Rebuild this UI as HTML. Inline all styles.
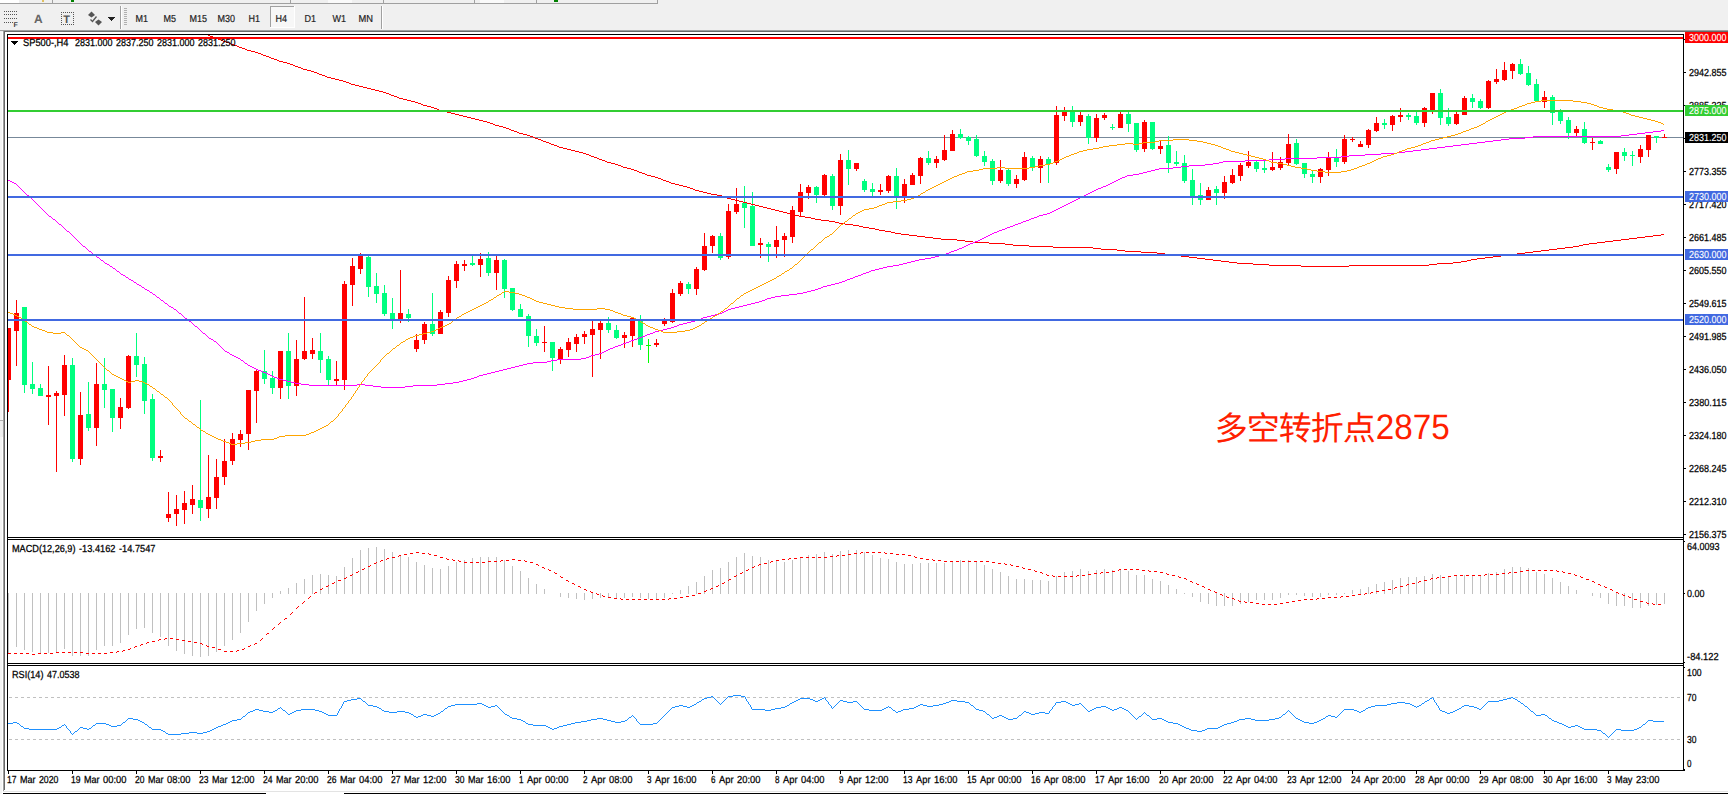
<!DOCTYPE html>
<html lang="zh"><head><meta charset="utf-8"><title>SP500-,H4</title>
<style>
html,body{margin:0;padding:0;background:#fff}
body{width:1728px;height:794px;overflow:hidden;position:relative;font-family:"Liberation Sans","Noto Sans CJK SC",sans-serif}
svg{position:absolute;left:0;top:0;display:block}
text{font-family:"Liberation Sans","Noto Sans CJK SC",sans-serif;font-size:10.2px;fill:#000;text-rendering:geometricPrecision}
.ce{shape-rendering:crispEdges}
.tb{fill:#222;font-size:10.2px;stroke:#222;stroke-width:0.2px}
.ax{font-size:10.2px;stroke:#000;stroke-width:0.25px}
.w{fill:#fff;stroke:#fff;stroke-width:0.1px}
.note{font-family:"Liberation Sans","Noto Sans CJK SC",sans-serif;font-size:33px;fill:#ff2000;font-weight:400;letter-spacing:-1px}
.note tspan{font-size:35.4px;letter-spacing:0}
</style></head><body>
<svg width="1728" height="794" viewBox="0 0 1728 794">
<g id="toolbar">
<rect class="ce" x="0" y="0" width="1728" height="32" fill="#f0f0f0"/>
<rect class="ce" x="0" y="3" width="658" height="1" fill="#a0a0a0"/>
<rect class="ce" x="657" y="0" width="1" height="4" fill="#a0a0a0"/>
<rect class="ce" x="0" y="0" width="19" height="3" fill="#fff"/>
<rect class="ce" x="328" y="0" width="24" height="3" fill="#fafafa"/>
<rect class="ce" x="480" y="0" width="24" height="3" fill="#fafafa"/>
<rect class="ce" x="52" y="0" width="1" height="3" fill="#a0a0a0"/>
<rect class="ce" x="290" y="0" width="1" height="3" fill="#a0a0a0"/>
<rect class="ce" x="383" y="0" width="1" height="3" fill="#a0a0a0"/>
<rect class="ce" x="474" y="0" width="1" height="3" fill="#a0a0a0"/>
<rect class="ce" x="536" y="0" width="1" height="3" fill="#a0a0a0"/>
<rect class="ce" x="42" y="0" width="2" height="2" fill="#e0c060"/>
<rect class="ce" x="71" y="0" width="3" height="2" fill="#008000"/>
<rect class="ce" x="554" y="0" width="4" height="2" fill="#008000"/>
<rect class="ce" x="0" y="30" width="1728" height="1" fill="#a0a0a0"/>
<rect class="ce" x="3" y="31" width="1728" height="1" fill="#696969"/>
<rect class="ce" x="4" y="11" width="1" height="1" fill="#555"/>
<rect class="ce" x="6" y="11" width="1" height="1" fill="#555"/>
<rect class="ce" x="8" y="11" width="1" height="1" fill="#555"/>
<rect class="ce" x="10" y="11" width="1" height="1" fill="#555"/>
<rect class="ce" x="12" y="11" width="1" height="1" fill="#555"/>
<rect class="ce" x="14" y="11" width="1" height="1" fill="#555"/>
<rect class="ce" x="16" y="11" width="1" height="1" fill="#555"/>
<rect class="ce" x="4" y="14" width="1" height="1" fill="#555"/>
<rect class="ce" x="6" y="14" width="1" height="1" fill="#555"/>
<rect class="ce" x="8" y="14" width="1" height="1" fill="#555"/>
<rect class="ce" x="10" y="14" width="1" height="1" fill="#555"/>
<rect class="ce" x="12" y="14" width="1" height="1" fill="#555"/>
<rect class="ce" x="14" y="14" width="1" height="1" fill="#555"/>
<rect class="ce" x="16" y="14" width="1" height="1" fill="#555"/>
<rect class="ce" x="4" y="18" width="1" height="1" fill="#555"/>
<rect class="ce" x="6" y="18" width="1" height="1" fill="#555"/>
<rect class="ce" x="8" y="18" width="1" height="1" fill="#555"/>
<rect class="ce" x="10" y="18" width="1" height="1" fill="#555"/>
<rect class="ce" x="12" y="18" width="1" height="1" fill="#555"/>
<rect class="ce" x="14" y="18" width="1" height="1" fill="#555"/>
<rect class="ce" x="16" y="18" width="1" height="1" fill="#555"/>
<rect class="ce" x="4" y="22" width="1" height="1" fill="#555"/>
<rect class="ce" x="6" y="22" width="1" height="1" fill="#555"/>
<rect class="ce" x="8" y="22" width="1" height="1" fill="#555"/>
<rect class="ce" x="10" y="22" width="1" height="1" fill="#555"/>
<rect class="ce" x="12" y="22" width="1" height="1" fill="#555"/>
<text x="13.5" y="27" style="font-size:7px;font-weight:bold;fill:#444">F</text>
<text x="34" y="23" style="font-size:12px;font-weight:bold;fill:#666">A</text>
<rect class="ce" x="61" y="12" width="1" height="1" fill="#555"/>
<rect class="ce" x="61" y="24" width="1" height="1" fill="#555"/>
<rect class="ce" x="63" y="12" width="1" height="1" fill="#555"/>
<rect class="ce" x="63" y="24" width="1" height="1" fill="#555"/>
<rect class="ce" x="65" y="12" width="1" height="1" fill="#555"/>
<rect class="ce" x="65" y="24" width="1" height="1" fill="#555"/>
<rect class="ce" x="67" y="12" width="1" height="1" fill="#555"/>
<rect class="ce" x="67" y="24" width="1" height="1" fill="#555"/>
<rect class="ce" x="69" y="12" width="1" height="1" fill="#555"/>
<rect class="ce" x="69" y="24" width="1" height="1" fill="#555"/>
<rect class="ce" x="71" y="12" width="1" height="1" fill="#555"/>
<rect class="ce" x="71" y="24" width="1" height="1" fill="#555"/>
<rect class="ce" x="73" y="12" width="1" height="1" fill="#555"/>
<rect class="ce" x="73" y="24" width="1" height="1" fill="#555"/>
<rect class="ce" x="61" y="12" width="1" height="1" fill="#555"/>
<rect class="ce" x="73" y="12" width="1" height="1" fill="#555"/>
<rect class="ce" x="61" y="14" width="1" height="1" fill="#555"/>
<rect class="ce" x="73" y="14" width="1" height="1" fill="#555"/>
<rect class="ce" x="61" y="16" width="1" height="1" fill="#555"/>
<rect class="ce" x="73" y="16" width="1" height="1" fill="#555"/>
<rect class="ce" x="61" y="18" width="1" height="1" fill="#555"/>
<rect class="ce" x="73" y="18" width="1" height="1" fill="#555"/>
<rect class="ce" x="61" y="20" width="1" height="1" fill="#555"/>
<rect class="ce" x="73" y="20" width="1" height="1" fill="#555"/>
<rect class="ce" x="61" y="22" width="1" height="1" fill="#555"/>
<rect class="ce" x="73" y="22" width="1" height="1" fill="#555"/>
<rect class="ce" x="61" y="24" width="1" height="1" fill="#555"/>
<rect class="ce" x="73" y="24" width="1" height="1" fill="#555"/>
<text x="63.3" y="23" style="font-size:11px;font-weight:bold;fill:#555">T</text>
<path d="M88 15 L91.5 11.5 L95 15 L91.5 17.5 Z" fill="#555"/>
<path d="M95 22 L98.5 19.5 L102 22 L98.5 25.5 Z" fill="#555"/>
<path d="M90.5 19.5 L92.5 21.5 L96.5 16.5" fill="none" stroke="#555" stroke-width="1.3"/>
<rect class="ce" x="108" y="17" width="7" height="1" fill="#222"/>
<rect class="ce" x="109" y="18" width="5" height="1" fill="#222"/>
<rect class="ce" x="110" y="19" width="3" height="1" fill="#222"/>
<rect class="ce" x="111" y="20" width="1" height="1" fill="#222"/>
<rect class="ce" x="120" y="6" width="1" height="23" fill="#a0a0a0"/>
<rect class="ce" x="121" y="6" width="1" height="23" fill="#fff"/>
<rect class="ce" x="124" y="8" width="3" height="1" fill="#b0b0b0"/>
<rect class="ce" x="124" y="10" width="3" height="1" fill="#b0b0b0"/>
<rect class="ce" x="124" y="12" width="3" height="1" fill="#b0b0b0"/>
<rect class="ce" x="124" y="14" width="3" height="1" fill="#b0b0b0"/>
<rect class="ce" x="124" y="16" width="3" height="1" fill="#b0b0b0"/>
<rect class="ce" x="124" y="18" width="3" height="1" fill="#b0b0b0"/>
<rect class="ce" x="124" y="20" width="3" height="1" fill="#b0b0b0"/>
<rect class="ce" x="124" y="22" width="3" height="1" fill="#b0b0b0"/>
<rect class="ce" x="124" y="24" width="3" height="1" fill="#b0b0b0"/>
<rect class="ce" x="381" y="6" width="1" height="23" fill="#a0a0a0"/>
<rect class="ce" x="382" y="6" width="1" height="23" fill="#fff"/>
<rect class="ce" x="270" y="6" width="25" height="22" fill="#f7f7f7"/>
<rect class="ce" x="270" y="6" width="25" height="1" fill="#a0a0a0"/>
<rect class="ce" x="270" y="6" width="1" height="22" fill="#a0a0a0"/>
<rect class="ce" x="270" y="27" width="25" height="1" fill="#fff"/>
<rect class="ce" x="294" y="6" width="1" height="22" fill="#fff"/>
<text class="tb" y="22"><tspan x="135.6" textLength="12.5" lengthAdjust="spacingAndGlyphs">M1</tspan></text>
<text class="tb" y="22"><tspan x="163.6" textLength="12.5" lengthAdjust="spacingAndGlyphs">M5</tspan></text>
<text class="tb" y="22"><tspan x="189.6" textLength="17.5" lengthAdjust="spacingAndGlyphs">M15</tspan></text>
<text class="tb" y="22"><tspan x="217.6" textLength="17.5" lengthAdjust="spacingAndGlyphs">M30</tspan></text>
<text class="tb" y="22"><tspan x="248.6" textLength="11.5" lengthAdjust="spacingAndGlyphs">H1</tspan></text>
<text class="tb" y="22"><tspan x="275.6" textLength="11.5" lengthAdjust="spacingAndGlyphs">H4</tspan></text>
<text class="tb" y="22"><tspan x="304.6" textLength="11.5" lengthAdjust="spacingAndGlyphs">D1</tspan></text>
<text class="tb" y="22"><tspan x="332.6" textLength="13.5" lengthAdjust="spacingAndGlyphs">W1</tspan></text>
<text class="tb" y="22"><tspan x="358.6" textLength="14.5" lengthAdjust="spacingAndGlyphs">MN</tspan></text>
</g>
<g id="frame">
<rect class="ce" x="0" y="32" width="2" height="762" fill="#f4f4f4"/>
<rect class="ce" x="2" y="32" width="1" height="762" fill="#fff"/>
<rect class="ce" x="0" y="420" width="3" height="1" fill="#b0b0b0"/>
<rect class="ce" x="0" y="421" width="3" height="16" fill="#eeeeee"/>
<rect class="ce" x="3" y="30" width="1" height="761" fill="#a0a0a0"/>
<rect class="ce" x="4" y="31" width="1" height="759" fill="#696969"/>
<rect class="ce" x="5" y="32" width="1723" height="762" fill="#fff"/>
<rect class="ce" x="3" y="791" width="1725" height="1" fill="#e3e3e3"/>
<rect class="ce" x="3" y="793" width="263" height="1" fill="#000"/>
<rect class="ce" x="344" y="793" width="1384" height="1" fill="#000"/>
</g>
<g id="borders">
<rect class="ce" x="7" y="34" width="1677" height="1" fill="#000"/>
<rect class="ce" x="7" y="34" width="1" height="737" fill="#000"/>
<rect class="ce" x="1683" y="34" width="1" height="737" fill="#000"/>
<rect class="ce" x="7" y="537" width="1677" height="1" fill="#000"/>
<rect class="ce" x="7" y="539" width="1677" height="1" fill="#000"/>
<rect class="ce" x="7" y="663" width="1677" height="1" fill="#000"/>
<rect class="ce" x="7" y="665" width="1677" height="1" fill="#000"/>
<rect class="ce" x="7" y="770" width="1678" height="1" fill="#000"/>
<rect class="ce" x="8" y="538" width="1675" height="1" fill="#fff"/>
<rect class="ce" x="8" y="664" width="1675" height="1" fill="#fff"/>
</g>
<g id="main">
<rect class="ce" x="8" y="137" width="1675" height="1" fill="#778899"/>
<g id="candles">
<rect class="ce" x="8" y="328" width="1" height="84" fill="#ff0000"/>
<rect class="ce" x="8" y="328" width="3" height="52" fill="#ff0000"/>
<rect class="ce" x="16" y="300" width="1" height="66" fill="#ff0000"/>
<rect class="ce" x="14" y="313" width="5" height="18" fill="#ff0000"/>
<rect class="ce" x="24" y="307" width="1" height="86" fill="#00ff7f"/>
<rect class="ce" x="22" y="307" width="5" height="78" fill="#00ff7f"/>
<rect class="ce" x="32" y="362" width="1" height="32" fill="#00ff7f"/>
<rect class="ce" x="30" y="384" width="5" height="5" fill="#00ff7f"/>
<rect class="ce" x="40" y="384" width="1" height="12" fill="#00ff7f"/>
<rect class="ce" x="38" y="388" width="5" height="8" fill="#00ff7f"/>
<rect class="ce" x="48" y="366" width="1" height="59" fill="#ff0000"/>
<rect class="ce" x="46" y="395" width="5" height="2" fill="#ff0000"/>
<rect class="ce" x="56" y="391" width="1" height="81" fill="#ff0000"/>
<rect class="ce" x="54" y="393" width="5" height="3" fill="#ff0000"/>
<rect class="ce" x="64" y="355" width="1" height="61" fill="#ff0000"/>
<rect class="ce" x="62" y="365" width="5" height="30" fill="#ff0000"/>
<rect class="ce" x="72" y="358" width="1" height="104" fill="#00ff7f"/>
<rect class="ce" x="70" y="365" width="5" height="94" fill="#00ff7f"/>
<rect class="ce" x="80" y="392" width="1" height="73" fill="#ff0000"/>
<rect class="ce" x="78" y="415" width="5" height="44" fill="#ff0000"/>
<rect class="ce" x="88" y="382" width="1" height="49" fill="#00ff7f"/>
<rect class="ce" x="86" y="414" width="5" height="14" fill="#00ff7f"/>
<rect class="ce" x="96" y="363" width="1" height="83" fill="#ff0000"/>
<rect class="ce" x="94" y="384" width="5" height="44" fill="#ff0000"/>
<rect class="ce" x="104" y="358" width="1" height="50" fill="#00ff7f"/>
<rect class="ce" x="102" y="384" width="5" height="6" fill="#00ff7f"/>
<rect class="ce" x="112" y="389" width="1" height="43" fill="#00ff7f"/>
<rect class="ce" x="110" y="389" width="5" height="29" fill="#00ff7f"/>
<rect class="ce" x="120" y="398" width="1" height="31" fill="#ff0000"/>
<rect class="ce" x="118" y="407" width="5" height="11" fill="#ff0000"/>
<rect class="ce" x="128" y="355" width="1" height="54" fill="#ff0000"/>
<rect class="ce" x="126" y="356" width="5" height="52" fill="#ff0000"/>
<rect class="ce" x="136" y="333" width="1" height="44" fill="#00ff7f"/>
<rect class="ce" x="134" y="356" width="5" height="9" fill="#00ff7f"/>
<rect class="ce" x="144" y="357" width="1" height="57" fill="#00ff7f"/>
<rect class="ce" x="142" y="364" width="5" height="37" fill="#00ff7f"/>
<rect class="ce" x="152" y="394" width="1" height="67" fill="#00ff7f"/>
<rect class="ce" x="150" y="399" width="5" height="59" fill="#00ff7f"/>
<rect class="ce" x="160" y="450" width="1" height="12" fill="#ff0000"/>
<rect class="ce" x="158" y="456" width="5" height="2" fill="#ff0000"/>
<rect class="ce" x="168" y="492" width="1" height="30" fill="#ff0000"/>
<rect class="ce" x="166" y="514" width="5" height="4" fill="#ff0000"/>
<rect class="ce" x="176" y="495" width="1" height="31" fill="#ff0000"/>
<rect class="ce" x="174" y="509" width="5" height="5" fill="#ff0000"/>
<rect class="ce" x="184" y="491" width="1" height="33" fill="#ff0000"/>
<rect class="ce" x="182" y="503" width="5" height="7" fill="#ff0000"/>
<rect class="ce" x="192" y="485" width="1" height="29" fill="#ff0000"/>
<rect class="ce" x="190" y="499" width="5" height="6" fill="#ff0000"/>
<rect class="ce" x="200" y="400" width="1" height="121" fill="#00ff7f"/>
<rect class="ce" x="198" y="500" width="5" height="8" fill="#00ff7f"/>
<rect class="ce" x="208" y="455" width="1" height="63" fill="#ff0000"/>
<rect class="ce" x="206" y="497" width="5" height="12" fill="#ff0000"/>
<rect class="ce" x="216" y="459" width="1" height="50" fill="#ff0000"/>
<rect class="ce" x="214" y="477" width="5" height="21" fill="#ff0000"/>
<rect class="ce" x="224" y="439" width="1" height="46" fill="#ff0000"/>
<rect class="ce" x="222" y="461" width="5" height="16" fill="#ff0000"/>
<rect class="ce" x="232" y="433" width="1" height="32" fill="#ff0000"/>
<rect class="ce" x="230" y="439" width="5" height="22" fill="#ff0000"/>
<rect class="ce" x="240" y="430" width="1" height="17" fill="#ff0000"/>
<rect class="ce" x="238" y="434" width="5" height="6" fill="#ff0000"/>
<rect class="ce" x="248" y="390" width="1" height="60" fill="#ff0000"/>
<rect class="ce" x="246" y="390" width="5" height="44" fill="#ff0000"/>
<rect class="ce" x="256" y="370" width="1" height="53" fill="#ff0000"/>
<rect class="ce" x="254" y="371" width="5" height="20" fill="#ff0000"/>
<rect class="ce" x="264" y="350" width="1" height="34" fill="#00ff7f"/>
<rect class="ce" x="262" y="371" width="5" height="8" fill="#00ff7f"/>
<rect class="ce" x="272" y="371" width="1" height="23" fill="#00ff7f"/>
<rect class="ce" x="270" y="378" width="5" height="10" fill="#00ff7f"/>
<rect class="ce" x="280" y="351" width="1" height="48" fill="#ff0000"/>
<rect class="ce" x="278" y="351" width="5" height="37" fill="#ff0000"/>
<rect class="ce" x="288" y="333" width="1" height="66" fill="#00ff7f"/>
<rect class="ce" x="286" y="351" width="5" height="35" fill="#00ff7f"/>
<rect class="ce" x="296" y="340" width="1" height="56" fill="#ff0000"/>
<rect class="ce" x="294" y="359" width="5" height="27" fill="#ff0000"/>
<rect class="ce" x="304" y="297" width="1" height="63" fill="#ff0000"/>
<rect class="ce" x="302" y="351" width="5" height="8" fill="#ff0000"/>
<rect class="ce" x="312" y="338" width="1" height="21" fill="#ff0000"/>
<rect class="ce" x="310" y="350" width="5" height="4" fill="#ff0000"/>
<rect class="ce" x="320" y="333" width="1" height="40" fill="#00ff7f"/>
<rect class="ce" x="318" y="351" width="5" height="9" fill="#00ff7f"/>
<rect class="ce" x="328" y="356" width="1" height="29" fill="#00ff7f"/>
<rect class="ce" x="326" y="359" width="5" height="21" fill="#00ff7f"/>
<rect class="ce" x="336" y="361" width="1" height="24" fill="#ff0000"/>
<rect class="ce" x="334" y="379" width="5" height="2" fill="#ff0000"/>
<rect class="ce" x="344" y="281" width="1" height="109" fill="#ff0000"/>
<rect class="ce" x="342" y="284" width="5" height="96" fill="#ff0000"/>
<rect class="ce" x="352" y="258" width="1" height="48" fill="#ff0000"/>
<rect class="ce" x="350" y="266" width="5" height="19" fill="#ff0000"/>
<rect class="ce" x="360" y="253" width="1" height="21" fill="#ff0000"/>
<rect class="ce" x="358" y="256" width="5" height="13" fill="#ff0000"/>
<rect class="ce" x="368" y="256" width="1" height="41" fill="#00ff7f"/>
<rect class="ce" x="366" y="257" width="5" height="30" fill="#00ff7f"/>
<rect class="ce" x="376" y="273" width="1" height="30" fill="#00ff7f"/>
<rect class="ce" x="374" y="286" width="5" height="8" fill="#00ff7f"/>
<rect class="ce" x="384" y="285" width="1" height="31" fill="#00ff7f"/>
<rect class="ce" x="382" y="293" width="5" height="21" fill="#00ff7f"/>
<rect class="ce" x="392" y="298" width="1" height="31" fill="#00ff7f"/>
<rect class="ce" x="390" y="313" width="5" height="6" fill="#00ff7f"/>
<rect class="ce" x="400" y="270" width="1" height="53" fill="#ff0000"/>
<rect class="ce" x="398" y="313" width="5" height="6" fill="#ff0000"/>
<rect class="ce" x="408" y="309" width="1" height="13" fill="#00ff7f"/>
<rect class="ce" x="406" y="314" width="5" height="4" fill="#00ff7f"/>
<rect class="ce" x="416" y="334" width="1" height="18" fill="#ff0000"/>
<rect class="ce" x="414" y="340" width="5" height="9" fill="#ff0000"/>
<rect class="ce" x="424" y="322" width="1" height="22" fill="#ff0000"/>
<rect class="ce" x="422" y="324" width="5" height="16" fill="#ff0000"/>
<rect class="ce" x="432" y="293" width="1" height="43" fill="#00ff7f"/>
<rect class="ce" x="430" y="324" width="5" height="10" fill="#00ff7f"/>
<rect class="ce" x="440" y="310" width="1" height="24" fill="#ff0000"/>
<rect class="ce" x="438" y="312" width="5" height="22" fill="#ff0000"/>
<rect class="ce" x="448" y="276" width="1" height="41" fill="#ff0000"/>
<rect class="ce" x="446" y="280" width="5" height="33" fill="#ff0000"/>
<rect class="ce" x="456" y="261" width="1" height="27" fill="#ff0000"/>
<rect class="ce" x="454" y="264" width="5" height="17" fill="#ff0000"/>
<rect class="ce" x="464" y="260" width="1" height="11" fill="#ff0000"/>
<rect class="ce" x="462" y="264" width="5" height="2" fill="#ff0000"/>
<rect class="ce" x="472" y="256" width="1" height="10" fill="#00ff7f"/>
<rect class="ce" x="470" y="263" width="5" height="2" fill="#00ff7f"/>
<rect class="ce" x="480" y="253" width="1" height="24" fill="#ff0000"/>
<rect class="ce" x="478" y="259" width="5" height="6" fill="#ff0000"/>
<rect class="ce" x="488" y="252" width="1" height="24" fill="#00ff7f"/>
<rect class="ce" x="486" y="258" width="5" height="15" fill="#00ff7f"/>
<rect class="ce" x="496" y="256" width="1" height="34" fill="#ff0000"/>
<rect class="ce" x="494" y="260" width="5" height="13" fill="#ff0000"/>
<rect class="ce" x="504" y="259" width="1" height="39" fill="#00ff7f"/>
<rect class="ce" x="502" y="260" width="5" height="29" fill="#00ff7f"/>
<rect class="ce" x="512" y="288" width="1" height="23" fill="#00ff7f"/>
<rect class="ce" x="510" y="288" width="5" height="22" fill="#00ff7f"/>
<rect class="ce" x="520" y="304" width="1" height="13" fill="#00ff7f"/>
<rect class="ce" x="518" y="309" width="5" height="8" fill="#00ff7f"/>
<rect class="ce" x="528" y="314" width="1" height="33" fill="#00ff7f"/>
<rect class="ce" x="526" y="316" width="5" height="20" fill="#00ff7f"/>
<rect class="ce" x="536" y="329" width="1" height="17" fill="#00ff7f"/>
<rect class="ce" x="534" y="336" width="5" height="7" fill="#00ff7f"/>
<rect class="ce" x="544" y="326" width="1" height="26" fill="#ff0000"/>
<rect class="ce" x="542" y="342" width="5" height="1" fill="#ff0000"/>
<rect class="ce" x="552" y="342" width="1" height="29" fill="#00ff7f"/>
<rect class="ce" x="550" y="342" width="5" height="16" fill="#00ff7f"/>
<rect class="ce" x="560" y="347" width="1" height="17" fill="#ff0000"/>
<rect class="ce" x="558" y="349" width="5" height="10" fill="#ff0000"/>
<rect class="ce" x="568" y="338" width="1" height="19" fill="#ff0000"/>
<rect class="ce" x="566" y="342" width="5" height="8" fill="#ff0000"/>
<rect class="ce" x="576" y="334" width="1" height="18" fill="#ff0000"/>
<rect class="ce" x="574" y="337" width="5" height="7" fill="#ff0000"/>
<rect class="ce" x="584" y="331" width="1" height="13" fill="#ff0000"/>
<rect class="ce" x="582" y="334" width="5" height="3" fill="#ff0000"/>
<rect class="ce" x="592" y="321" width="1" height="56" fill="#ff0000"/>
<rect class="ce" x="590" y="329" width="5" height="6" fill="#ff0000"/>
<rect class="ce" x="600" y="321" width="1" height="38" fill="#ff0000"/>
<rect class="ce" x="598" y="323" width="5" height="7" fill="#ff0000"/>
<rect class="ce" x="608" y="317" width="1" height="16" fill="#00ff7f"/>
<rect class="ce" x="606" y="323" width="5" height="7" fill="#00ff7f"/>
<rect class="ce" x="616" y="325" width="1" height="14" fill="#00ff7f"/>
<rect class="ce" x="614" y="330" width="5" height="8" fill="#00ff7f"/>
<rect class="ce" x="624" y="332" width="1" height="16" fill="#ff0000"/>
<rect class="ce" x="622" y="335" width="5" height="3" fill="#ff0000"/>
<rect class="ce" x="632" y="317" width="1" height="30" fill="#ff0000"/>
<rect class="ce" x="630" y="318" width="5" height="18" fill="#ff0000"/>
<rect class="ce" x="640" y="315" width="1" height="35" fill="#00ff7f"/>
<rect class="ce" x="638" y="321" width="5" height="24" fill="#00ff7f"/>
<rect class="ce" x="648" y="339" width="1" height="24" fill="#00ff00"/>
<rect class="ce" x="646" y="345" width="5" height="1" fill="#00ff00"/>
<rect class="ce" x="656" y="339" width="1" height="8" fill="#ff0000"/>
<rect class="ce" x="654" y="343" width="5" height="2" fill="#ff0000"/>
<rect class="ce" x="664" y="318" width="1" height="8" fill="#ff0000"/>
<rect class="ce" x="662" y="320" width="5" height="4" fill="#ff0000"/>
<rect class="ce" x="672" y="289" width="1" height="34" fill="#ff0000"/>
<rect class="ce" x="670" y="293" width="5" height="29" fill="#ff0000"/>
<rect class="ce" x="680" y="281" width="1" height="15" fill="#ff0000"/>
<rect class="ce" x="678" y="283" width="5" height="11" fill="#ff0000"/>
<rect class="ce" x="688" y="282" width="1" height="12" fill="#00ff7f"/>
<rect class="ce" x="686" y="284" width="5" height="5" fill="#00ff7f"/>
<rect class="ce" x="696" y="267" width="1" height="28" fill="#ff0000"/>
<rect class="ce" x="694" y="269" width="5" height="20" fill="#ff0000"/>
<rect class="ce" x="704" y="233" width="1" height="38" fill="#ff0000"/>
<rect class="ce" x="702" y="246" width="5" height="24" fill="#ff0000"/>
<rect class="ce" x="712" y="235" width="1" height="18" fill="#ff0000"/>
<rect class="ce" x="710" y="236" width="5" height="10" fill="#ff0000"/>
<rect class="ce" x="720" y="233" width="1" height="27" fill="#00ff7f"/>
<rect class="ce" x="718" y="236" width="5" height="22" fill="#00ff7f"/>
<rect class="ce" x="728" y="204" width="1" height="55" fill="#ff0000"/>
<rect class="ce" x="726" y="211" width="5" height="46" fill="#ff0000"/>
<rect class="ce" x="736" y="188" width="1" height="26" fill="#ff0000"/>
<rect class="ce" x="734" y="204" width="5" height="8" fill="#ff0000"/>
<rect class="ce" x="744" y="186" width="1" height="42" fill="#00ff7f"/>
<rect class="ce" x="742" y="203" width="5" height="5" fill="#00ff7f"/>
<rect class="ce" x="752" y="192" width="1" height="54" fill="#00ff7f"/>
<rect class="ce" x="750" y="206" width="5" height="40" fill="#00ff7f"/>
<rect class="ce" x="760" y="238" width="1" height="20" fill="#ff0000"/>
<rect class="ce" x="758" y="243" width="5" height="2" fill="#ff0000"/>
<rect class="ce" x="768" y="242" width="1" height="20" fill="#00ff7f"/>
<rect class="ce" x="766" y="244" width="5" height="3" fill="#00ff7f"/>
<rect class="ce" x="776" y="226" width="1" height="32" fill="#ff0000"/>
<rect class="ce" x="774" y="240" width="5" height="7" fill="#ff0000"/>
<rect class="ce" x="784" y="233" width="1" height="24" fill="#ff0000"/>
<rect class="ce" x="782" y="236" width="5" height="4" fill="#ff0000"/>
<rect class="ce" x="792" y="206" width="1" height="37" fill="#ff0000"/>
<rect class="ce" x="790" y="210" width="5" height="27" fill="#ff0000"/>
<rect class="ce" x="800" y="184" width="1" height="32" fill="#ff0000"/>
<rect class="ce" x="798" y="192" width="5" height="20" fill="#ff0000"/>
<rect class="ce" x="808" y="185" width="1" height="14" fill="#ff0000"/>
<rect class="ce" x="806" y="187" width="5" height="6" fill="#ff0000"/>
<rect class="ce" x="816" y="186" width="1" height="17" fill="#00ff7f"/>
<rect class="ce" x="814" y="187" width="5" height="8" fill="#00ff7f"/>
<rect class="ce" x="824" y="174" width="1" height="22" fill="#ff0000"/>
<rect class="ce" x="822" y="175" width="5" height="20" fill="#ff0000"/>
<rect class="ce" x="832" y="174" width="1" height="36" fill="#00ff7f"/>
<rect class="ce" x="830" y="176" width="5" height="30" fill="#00ff7f"/>
<rect class="ce" x="840" y="154" width="1" height="61" fill="#ff0000"/>
<rect class="ce" x="838" y="160" width="5" height="46" fill="#ff0000"/>
<rect class="ce" x="848" y="150" width="1" height="35" fill="#00ff7f"/>
<rect class="ce" x="846" y="160" width="5" height="9" fill="#00ff7f"/>
<rect class="ce" x="856" y="163" width="1" height="8" fill="#ff0000"/>
<rect class="ce" x="854" y="163" width="5" height="6" fill="#ff0000"/>
<rect class="ce" x="864" y="179" width="1" height="13" fill="#00ff7f"/>
<rect class="ce" x="862" y="181" width="5" height="9" fill="#00ff7f"/>
<rect class="ce" x="872" y="183" width="1" height="13" fill="#00ff7f"/>
<rect class="ce" x="870" y="189" width="5" height="3" fill="#00ff7f"/>
<rect class="ce" x="880" y="184" width="1" height="11" fill="#ff0000"/>
<rect class="ce" x="878" y="190" width="5" height="2" fill="#ff0000"/>
<rect class="ce" x="888" y="175" width="1" height="18" fill="#ff0000"/>
<rect class="ce" x="886" y="176" width="5" height="15" fill="#ff0000"/>
<rect class="ce" x="896" y="168" width="1" height="41" fill="#00ff7f"/>
<rect class="ce" x="894" y="176" width="5" height="21" fill="#00ff7f"/>
<rect class="ce" x="904" y="179" width="1" height="24" fill="#ff0000"/>
<rect class="ce" x="902" y="184" width="5" height="13" fill="#ff0000"/>
<rect class="ce" x="912" y="173" width="1" height="12" fill="#ff0000"/>
<rect class="ce" x="910" y="175" width="5" height="10" fill="#ff0000"/>
<rect class="ce" x="920" y="157" width="1" height="27" fill="#ff0000"/>
<rect class="ce" x="918" y="158" width="5" height="18" fill="#ff0000"/>
<rect class="ce" x="928" y="151" width="1" height="14" fill="#00ff7f"/>
<rect class="ce" x="926" y="158" width="5" height="5" fill="#00ff7f"/>
<rect class="ce" x="936" y="156" width="1" height="12" fill="#ff0000"/>
<rect class="ce" x="934" y="159" width="5" height="4" fill="#ff0000"/>
<rect class="ce" x="944" y="135" width="1" height="26" fill="#ff0000"/>
<rect class="ce" x="942" y="150" width="5" height="10" fill="#ff0000"/>
<rect class="ce" x="952" y="130" width="1" height="21" fill="#ff0000"/>
<rect class="ce" x="950" y="134" width="5" height="17" fill="#ff0000"/>
<rect class="ce" x="960" y="129" width="1" height="10" fill="#00ff7f"/>
<rect class="ce" x="958" y="134" width="5" height="4" fill="#00ff7f"/>
<rect class="ce" x="968" y="136" width="1" height="9" fill="#00ff7f"/>
<rect class="ce" x="966" y="137" width="5" height="4" fill="#00ff7f"/>
<rect class="ce" x="976" y="135" width="1" height="22" fill="#00ff7f"/>
<rect class="ce" x="974" y="139" width="5" height="17" fill="#00ff7f"/>
<rect class="ce" x="984" y="151" width="1" height="15" fill="#00ff7f"/>
<rect class="ce" x="982" y="156" width="5" height="6" fill="#00ff7f"/>
<rect class="ce" x="992" y="159" width="1" height="26" fill="#00ff7f"/>
<rect class="ce" x="990" y="161" width="5" height="20" fill="#00ff7f"/>
<rect class="ce" x="1000" y="160" width="1" height="23" fill="#ff0000"/>
<rect class="ce" x="998" y="170" width="5" height="11" fill="#ff0000"/>
<rect class="ce" x="1008" y="169" width="1" height="17" fill="#00ff7f"/>
<rect class="ce" x="1006" y="170" width="5" height="14" fill="#00ff7f"/>
<rect class="ce" x="1016" y="175" width="1" height="13" fill="#ff0000"/>
<rect class="ce" x="1014" y="179" width="5" height="5" fill="#ff0000"/>
<rect class="ce" x="1024" y="152" width="1" height="29" fill="#ff0000"/>
<rect class="ce" x="1022" y="157" width="5" height="23" fill="#ff0000"/>
<rect class="ce" x="1032" y="156" width="1" height="15" fill="#00ff7f"/>
<rect class="ce" x="1030" y="158" width="5" height="9" fill="#00ff7f"/>
<rect class="ce" x="1040" y="156" width="1" height="27" fill="#ff0000"/>
<rect class="ce" x="1038" y="159" width="5" height="9" fill="#ff0000"/>
<rect class="ce" x="1048" y="157" width="1" height="26" fill="#00ff7f"/>
<rect class="ce" x="1046" y="159" width="5" height="5" fill="#00ff7f"/>
<rect class="ce" x="1056" y="106" width="1" height="59" fill="#ff0000"/>
<rect class="ce" x="1054" y="115" width="5" height="48" fill="#ff0000"/>
<rect class="ce" x="1064" y="107" width="1" height="14" fill="#ff0000"/>
<rect class="ce" x="1062" y="112" width="5" height="4" fill="#ff0000"/>
<rect class="ce" x="1072" y="106" width="1" height="21" fill="#00ff7f"/>
<rect class="ce" x="1070" y="112" width="5" height="10" fill="#00ff7f"/>
<rect class="ce" x="1080" y="112" width="1" height="14" fill="#ff0000"/>
<rect class="ce" x="1078" y="115" width="5" height="7" fill="#ff0000"/>
<rect class="ce" x="1088" y="114" width="1" height="30" fill="#00ff7f"/>
<rect class="ce" x="1086" y="116" width="5" height="22" fill="#00ff7f"/>
<rect class="ce" x="1096" y="114" width="1" height="28" fill="#ff0000"/>
<rect class="ce" x="1094" y="118" width="5" height="20" fill="#ff0000"/>
<rect class="ce" x="1104" y="113" width="1" height="7" fill="#ff0000"/>
<rect class="ce" x="1102" y="115" width="5" height="3" fill="#ff0000"/>
<rect class="ce" x="1112" y="124" width="1" height="6" fill="#00ff7f"/>
<rect class="ce" x="1110" y="127" width="5" height="1" fill="#00ff7f"/>
<rect class="ce" x="1120" y="112" width="1" height="16" fill="#ff0000"/>
<rect class="ce" x="1118" y="114" width="5" height="14" fill="#ff0000"/>
<rect class="ce" x="1128" y="112" width="1" height="20" fill="#00ff7f"/>
<rect class="ce" x="1126" y="114" width="5" height="10" fill="#00ff7f"/>
<rect class="ce" x="1136" y="123" width="1" height="29" fill="#00ff7f"/>
<rect class="ce" x="1134" y="123" width="5" height="27" fill="#00ff7f"/>
<rect class="ce" x="1144" y="120" width="1" height="32" fill="#ff0000"/>
<rect class="ce" x="1142" y="122" width="5" height="27" fill="#ff0000"/>
<rect class="ce" x="1152" y="122" width="1" height="28" fill="#00ff7f"/>
<rect class="ce" x="1150" y="122" width="5" height="27" fill="#00ff7f"/>
<rect class="ce" x="1160" y="141" width="1" height="13" fill="#ff0000"/>
<rect class="ce" x="1158" y="146" width="5" height="3" fill="#ff0000"/>
<rect class="ce" x="1168" y="136" width="1" height="37" fill="#00ff7f"/>
<rect class="ce" x="1166" y="145" width="5" height="18" fill="#00ff7f"/>
<rect class="ce" x="1176" y="151" width="1" height="15" fill="#00ff7f"/>
<rect class="ce" x="1174" y="162" width="5" height="2" fill="#00ff7f"/>
<rect class="ce" x="1184" y="155" width="1" height="28" fill="#00ff7f"/>
<rect class="ce" x="1182" y="163" width="5" height="18" fill="#00ff7f"/>
<rect class="ce" x="1192" y="169" width="1" height="36" fill="#00ff7f"/>
<rect class="ce" x="1190" y="180" width="5" height="16" fill="#00ff7f"/>
<rect class="ce" x="1200" y="183" width="1" height="22" fill="#00ff7f"/>
<rect class="ce" x="1198" y="195" width="5" height="5" fill="#00ff7f"/>
<rect class="ce" x="1208" y="187" width="1" height="13" fill="#ff0000"/>
<rect class="ce" x="1206" y="190" width="5" height="10" fill="#ff0000"/>
<rect class="ce" x="1216" y="186" width="1" height="19" fill="#00ff7f"/>
<rect class="ce" x="1214" y="189" width="5" height="4" fill="#00ff7f"/>
<rect class="ce" x="1224" y="176" width="1" height="23" fill="#ff0000"/>
<rect class="ce" x="1222" y="182" width="5" height="11" fill="#ff0000"/>
<rect class="ce" x="1232" y="169" width="1" height="15" fill="#ff0000"/>
<rect class="ce" x="1230" y="175" width="5" height="8" fill="#ff0000"/>
<rect class="ce" x="1240" y="163" width="1" height="18" fill="#ff0000"/>
<rect class="ce" x="1238" y="165" width="5" height="11" fill="#ff0000"/>
<rect class="ce" x="1248" y="151" width="1" height="17" fill="#ff0000"/>
<rect class="ce" x="1246" y="162" width="5" height="4" fill="#ff0000"/>
<rect class="ce" x="1256" y="161" width="1" height="11" fill="#00ff7f"/>
<rect class="ce" x="1254" y="162" width="5" height="7" fill="#00ff7f"/>
<rect class="ce" x="1264" y="161" width="1" height="12" fill="#00ff7f"/>
<rect class="ce" x="1262" y="168" width="5" height="2" fill="#00ff7f"/>
<rect class="ce" x="1272" y="152" width="1" height="19" fill="#ff0000"/>
<rect class="ce" x="1270" y="167" width="5" height="3" fill="#ff0000"/>
<rect class="ce" x="1280" y="157" width="1" height="13" fill="#ff0000"/>
<rect class="ce" x="1278" y="162" width="5" height="6" fill="#ff0000"/>
<rect class="ce" x="1288" y="134" width="1" height="31" fill="#ff0000"/>
<rect class="ce" x="1286" y="144" width="5" height="19" fill="#ff0000"/>
<rect class="ce" x="1296" y="139" width="1" height="26" fill="#00ff7f"/>
<rect class="ce" x="1294" y="143" width="5" height="21" fill="#00ff7f"/>
<rect class="ce" x="1304" y="163" width="1" height="15" fill="#00ff7f"/>
<rect class="ce" x="1302" y="163" width="5" height="11" fill="#00ff7f"/>
<rect class="ce" x="1312" y="171" width="1" height="12" fill="#00ff7f"/>
<rect class="ce" x="1310" y="174" width="5" height="3" fill="#00ff7f"/>
<rect class="ce" x="1320" y="168" width="1" height="15" fill="#ff0000"/>
<rect class="ce" x="1318" y="169" width="5" height="8" fill="#ff0000"/>
<rect class="ce" x="1328" y="152" width="1" height="24" fill="#ff0000"/>
<rect class="ce" x="1326" y="158" width="5" height="12" fill="#ff0000"/>
<rect class="ce" x="1336" y="149" width="1" height="18" fill="#00ff7f"/>
<rect class="ce" x="1334" y="158" width="5" height="4" fill="#00ff7f"/>
<rect class="ce" x="1344" y="135" width="1" height="29" fill="#ff0000"/>
<rect class="ce" x="1342" y="139" width="5" height="23" fill="#ff0000"/>
<rect class="ce" x="1352" y="137" width="1" height="5" fill="#ff0000"/>
<rect class="ce" x="1350" y="139" width="5" height="1" fill="#ff0000"/>
<rect class="ce" x="1360" y="141" width="1" height="6" fill="#ff0000"/>
<rect class="ce" x="1358" y="144" width="5" height="3" fill="#ff0000"/>
<rect class="ce" x="1368" y="129" width="1" height="19" fill="#ff0000"/>
<rect class="ce" x="1366" y="130" width="5" height="15" fill="#ff0000"/>
<rect class="ce" x="1376" y="117" width="1" height="15" fill="#ff0000"/>
<rect class="ce" x="1374" y="123" width="5" height="8" fill="#ff0000"/>
<rect class="ce" x="1384" y="119" width="1" height="10" fill="#00ff7f"/>
<rect class="ce" x="1382" y="123" width="5" height="2" fill="#00ff7f"/>
<rect class="ce" x="1392" y="115" width="1" height="16" fill="#ff0000"/>
<rect class="ce" x="1390" y="116" width="5" height="9" fill="#ff0000"/>
<rect class="ce" x="1400" y="108" width="1" height="14" fill="#ff0000"/>
<rect class="ce" x="1398" y="115" width="5" height="2" fill="#ff0000"/>
<rect class="ce" x="1408" y="113" width="1" height="7" fill="#00ff7f"/>
<rect class="ce" x="1406" y="115" width="5" height="2" fill="#00ff7f"/>
<rect class="ce" x="1416" y="112" width="1" height="13" fill="#00ff7f"/>
<rect class="ce" x="1414" y="116" width="5" height="7" fill="#00ff7f"/>
<rect class="ce" x="1424" y="107" width="1" height="20" fill="#ff0000"/>
<rect class="ce" x="1422" y="108" width="5" height="15" fill="#ff0000"/>
<rect class="ce" x="1432" y="93" width="1" height="21" fill="#ff0000"/>
<rect class="ce" x="1430" y="93" width="5" height="19" fill="#ff0000"/>
<rect class="ce" x="1440" y="89" width="1" height="36" fill="#00ff7f"/>
<rect class="ce" x="1438" y="93" width="5" height="25" fill="#00ff7f"/>
<rect class="ce" x="1448" y="108" width="1" height="18" fill="#00ff7f"/>
<rect class="ce" x="1446" y="117" width="5" height="7" fill="#00ff7f"/>
<rect class="ce" x="1456" y="112" width="1" height="13" fill="#ff0000"/>
<rect class="ce" x="1454" y="114" width="5" height="10" fill="#ff0000"/>
<rect class="ce" x="1464" y="96" width="1" height="19" fill="#ff0000"/>
<rect class="ce" x="1462" y="98" width="5" height="17" fill="#ff0000"/>
<rect class="ce" x="1472" y="94" width="1" height="14" fill="#00ff7f"/>
<rect class="ce" x="1470" y="98" width="5" height="4" fill="#00ff7f"/>
<rect class="ce" x="1480" y="99" width="1" height="10" fill="#00ff7f"/>
<rect class="ce" x="1478" y="101" width="5" height="7" fill="#00ff7f"/>
<rect class="ce" x="1488" y="80" width="1" height="29" fill="#ff0000"/>
<rect class="ce" x="1486" y="81" width="5" height="27" fill="#ff0000"/>
<rect class="ce" x="1496" y="69" width="1" height="15" fill="#ff0000"/>
<rect class="ce" x="1494" y="79" width="5" height="3" fill="#ff0000"/>
<rect class="ce" x="1504" y="62" width="1" height="19" fill="#ff0000"/>
<rect class="ce" x="1502" y="70" width="5" height="10" fill="#ff0000"/>
<rect class="ce" x="1512" y="63" width="1" height="16" fill="#ff0000"/>
<rect class="ce" x="1510" y="64" width="5" height="7" fill="#ff0000"/>
<rect class="ce" x="1520" y="59" width="1" height="16" fill="#00ff7f"/>
<rect class="ce" x="1518" y="64" width="5" height="10" fill="#00ff7f"/>
<rect class="ce" x="1528" y="66" width="1" height="20" fill="#00ff7f"/>
<rect class="ce" x="1526" y="73" width="5" height="12" fill="#00ff7f"/>
<rect class="ce" x="1536" y="79" width="1" height="22" fill="#00ff7f"/>
<rect class="ce" x="1534" y="84" width="5" height="17" fill="#00ff7f"/>
<rect class="ce" x="1544" y="91" width="1" height="17" fill="#ff0000"/>
<rect class="ce" x="1542" y="97" width="5" height="5" fill="#ff0000"/>
<rect class="ce" x="1552" y="95" width="1" height="30" fill="#00ff7f"/>
<rect class="ce" x="1550" y="97" width="5" height="16" fill="#00ff7f"/>
<rect class="ce" x="1560" y="109" width="1" height="15" fill="#00ff7f"/>
<rect class="ce" x="1558" y="111" width="5" height="10" fill="#00ff7f"/>
<rect class="ce" x="1568" y="117" width="1" height="22" fill="#00ff7f"/>
<rect class="ce" x="1566" y="120" width="5" height="13" fill="#00ff7f"/>
<rect class="ce" x="1576" y="126" width="1" height="10" fill="#ff0000"/>
<rect class="ce" x="1574" y="129" width="5" height="4" fill="#ff0000"/>
<rect class="ce" x="1584" y="122" width="1" height="22" fill="#00ff7f"/>
<rect class="ce" x="1582" y="129" width="5" height="14" fill="#00ff7f"/>
<rect class="ce" x="1592" y="138" width="1" height="12" fill="#ff0000"/>
<rect class="ce" x="1590" y="142" width="5" height="1" fill="#ff0000"/>
<rect class="ce" x="1600" y="140" width="1" height="4" fill="#00ff7f"/>
<rect class="ce" x="1598" y="141" width="5" height="3" fill="#00ff7f"/>
<rect class="ce" x="1608" y="164" width="1" height="8" fill="#00ff7f"/>
<rect class="ce" x="1606" y="167" width="5" height="3" fill="#00ff7f"/>
<rect class="ce" x="1616" y="152" width="1" height="22" fill="#ff0000"/>
<rect class="ce" x="1614" y="152" width="5" height="17" fill="#ff0000"/>
<rect class="ce" x="1624" y="148" width="1" height="13" fill="#00ff7f"/>
<rect class="ce" x="1622" y="152" width="5" height="4" fill="#00ff7f"/>
<rect class="ce" x="1632" y="151" width="1" height="15" fill="#00ff7f"/>
<rect class="ce" x="1630" y="155" width="5" height="1" fill="#00ff7f"/>
<rect class="ce" x="1640" y="145" width="1" height="18" fill="#ff0000"/>
<rect class="ce" x="1638" y="149" width="5" height="8" fill="#ff0000"/>
<rect class="ce" x="1648" y="135" width="1" height="22" fill="#ff0000"/>
<rect class="ce" x="1646" y="135" width="5" height="15" fill="#ff0000"/>
<rect class="ce" x="1656" y="136" width="1" height="7" fill="#00ff7f"/>
<rect class="ce" x="1654" y="136" width="5" height="2" fill="#00ff7f"/>
<rect class="ce" x="1664" y="134" width="1" height="4" fill="#ff0000"/>
<rect class="ce" x="1662" y="137" width="5" height="1" fill="#ff0000"/>
</g>
<g id="ma">
<path class="ce" d="M208 35.5h2M210 36.5h3M213 37.5h2M215 38.5h3M218 39.5h3M221 40.5h2M223 41.5h3M226 42.5h3M229 43.5h2M231 44.5h3M234 45.5h3M237 46.5h2M239 47.5h3M242 48.5h3M245 49.5h2M247 50.5h4M251 51.5h4M255 52.5h3M258 53.5h3M261 54.5h2M263 55.5h3M266 56.5h3M269 57.5h2M271 58.5h3M274 59.5h3M277 60.5h2M279 61.5h4M283 62.5h4M287 63.5h3M290 64.5h3M293 65.5h2M295 66.5h3M298 67.5h3M301 68.5h2M303 69.5h4M307 70.5h4M311 71.5h3M314 72.5h3M317 73.5h2M319 74.5h3M322 75.5h3M325 76.5h2M327 77.5h4M331 78.5h4M335 79.5h4M339 80.5h4M343 81.5h3M346 82.5h3M349 83.5h2M351 84.5h4M355 85.5h4M359 86.5h4M363 87.5h4M367 88.5h4M371 89.5h4M375 90.5h4M379 91.5h4M383 92.5h3M386 93.5h3M389 94.5h2M391 95.5h3M394 96.5h3M397 97.5h2M399 98.5h4M403 99.5h4M407 100.5h4M411 101.5h4M415 102.5h3M418 103.5h3M421 104.5h2M423 105.5h4M427 106.5h4M431 107.5h3M434 108.5h3M437 109.5h2M439 110.5h4M443 111.5h4M447 112.5h4M451 113.5h4M455 114.5h4M459 115.5h4M463 116.5h4M467 117.5h4M471 118.5h4M475 119.5h4M479 120.5h4M483 121.5h4M487 122.5h3M490 123.5h3M493 124.5h2M495 125.5h4M499 126.5h4M503 127.5h3M506 128.5h3M509 129.5h2M511 130.5h3M514 131.5h3M517 132.5h2M519 133.5h4M523 134.5h4M527 135.5h3M530 136.5h3M533 137.5h2M535 138.5h3M538 139.5h3M541 140.5h2M543 141.5h3M546 142.5h3M549 143.5h2M551 144.5h3M554 145.5h3M557 146.5h2M559 147.5h4M563 148.5h4M567 149.5h4M571 150.5h4M575 151.5h4M579 152.5h4M583 153.5h3M586 154.5h3M589 155.5h2M591 156.5h3M594 157.5h3M597 158.5h2M599 159.5h3M602 160.5h3M605 161.5h2M607 162.5h4M611 163.5h4M615 164.5h3M618 165.5h3M621 166.5h2M623 167.5h4M627 168.5h4M631 169.5h3M634 170.5h3M637 171.5h2M639 172.5h3M642 173.5h3M645 174.5h2M647 175.5h4M651 176.5h4M655 177.5h3M658 178.5h3M661 179.5h2M663 180.5h3M666 181.5h3M669 182.5h2M671 183.5h4M675 184.5h4M679 185.5h4M683 186.5h4M687 187.5h3M690 188.5h3M693 189.5h2M695 190.5h4M699 191.5h4M703 192.5h4M707 193.5h4M711 194.5h6M717 195.5h5M722 196.5h3M725 197.5h2M727 198.5h4M731 199.5h4M735 200.5h4M739 201.5h4M743 202.5h4M747 203.5h4M751 204.5h4M755 205.5h4M759 206.5h4M763 207.5h4M767 208.5h4M771 209.5h4M775 210.5h4M779 211.5h4M783 212.5h4M787 213.5h4M791 214.5h4M795 215.5h4M799 216.5h6M805 217.5h6M811 218.5h4M815 219.5h6M821 220.5h8M829 221.5h6M835 222.5h4M839 223.5h6M845 224.5h8M853 225.5h6M859 226.5h4M863 227.5h6M869 228.5h6M875 229.5h4M879 230.5h6M885 231.5h6M891 232.5h4M895 233.5h6M901 234.5h8M1661 234.5h3M909 235.5h8M1653 235.5h8M917 236.5h8M1645 236.5h8M925 237.5h8M1637 237.5h8M933 238.5h8M1629 238.5h8M941 239.5h16M1621 239.5h8M957 240.5h8M1613 240.5h8M965 241.5h8M1605 241.5h8M973 242.5h16M1597 242.5h8M989 243.5h16M1589 243.5h8M1005 244.5h8M1583 244.5h6M1013 245.5h16M1579 245.5h4M1029 246.5h24M1573 246.5h6M1053 247.5h40M1565 247.5h8M1093 248.5h8M1557 248.5h8M1101 249.5h16M1549 249.5h8M1117 250.5h8M1541 250.5h8M1125 251.5h16M1533 251.5h8M1141 252.5h16M1525 252.5h8M1157 253.5h8M1517 253.5h8M1165 254.5h8M1509 254.5h8M1173 255.5h8M1501 255.5h8M1181 256.5h8M1493 256.5h8M1189 257.5h8M1485 257.5h8M1197 258.5h8M1477 258.5h8M1205 259.5h8M1471 259.5h6M1213 260.5h8M1467 260.5h4M1221 261.5h8M1461 261.5h6M1229 262.5h8M1453 262.5h8M1237 263.5h16M1437 263.5h16M1253 264.5h16M1429 264.5h8M1269 265.5h32M1349 265.5h80M1301 266.5h48" fill="none" stroke="#ff0000" stroke-width="1"/>
<path class="ce" d="M1661 130.5h3M1653 131.5h8M1645 132.5h8M1637 133.5h8M1629 134.5h8M1621 135.5h8M1533 136.5h88M1525 137.5h8M1509 138.5h16M1501 139.5h8M1493 140.5h8M1485 141.5h8M1477 142.5h8M1469 143.5h8M1461 144.5h8M1453 145.5h8M1445 146.5h8M1437 147.5h8M1429 148.5h8M1421 149.5h8M1413 150.5h8M1405 151.5h8M1397 152.5h8M1381 153.5h16M1365 154.5h16M1349 155.5h16M1341 156.5h8M1317 157.5h24M1285 158.5h32M1269 159.5h16M1245 160.5h24M1223 161.5h22M1219 162.5h4M1213 163.5h6M1205 164.5h8M1189 165.5h16M1181 166.5h8M1173 167.5h8M1159 168.5h14M1155 169.5h4M1151 170.5h4M1147 171.5h4M1143 172.5h4M1139 173.5h4M1133 174.5h6M1127 175.5h6M1125 176.5h2M1122 177.5h3M1120 178.5h2M1118 179.5h2M8 180.5h2M1116 180.5h2M10 181.5h2M1114 181.5h2M12 182.5h2M1112 182.5h2M14 183.5h2M1110 183.5h2M16 184.5h1M1108 184.5h2M17 185.5h1M1106 185.5h2M18 186.5h1M1103 186.5h3M19 187.5h1M1101 187.5h2M20 188.5h1M1098 188.5h3M21 189.5h1M1096 189.5h2M22 190.5h1M1094 190.5h2M23 191.5h1M1092 191.5h2M24 192.5h1M1090 192.5h2M25 193.5h1M1088 193.5h2M26 194.5h1M1086 194.5h2M27 195.5h2M1084 195.5h2M29 196.5h1M1082 196.5h2M30 197.5h1M1080 197.5h2M31 198.5h1M1078 198.5h2M32 199.5h1M1076 199.5h2M33 200.5h1M1074 200.5h2M34 201.5h1M1072 201.5h2M35 202.5h1M1070 202.5h2M36 203.5h1M1068 203.5h2M37 204.5h1M1066 204.5h2M38 205.5h1M1064 205.5h2M39 206.5h1M1062 206.5h2M40 207.5h1M1060 207.5h2M41 208.5h1M1058 208.5h2M42 209.5h1M1056 209.5h2M43 210.5h1M1054 210.5h2M44 211.5h1M1052 211.5h2M45 212.5h1M1050 212.5h2M46 213.5h1M1047 213.5h3M47 214.5h1M1043 214.5h4M48 215.5h1M1039 215.5h4M49 216.5h2M1037 216.5h2M51 217.5h1M1034 217.5h3M52 218.5h1M1031 218.5h3M53 219.5h2M1029 219.5h2M55 220.5h1M1026 220.5h3M56 221.5h1M1023 221.5h3M57 222.5h1M1021 222.5h2M58 223.5h1M1018 223.5h3M59 224.5h2M1015 224.5h3M61 225.5h1M1013 225.5h2M62 226.5h1M1010 226.5h3M63 227.5h1M1007 227.5h3M64 228.5h1M1005 228.5h2M65 229.5h1M1002 229.5h3M66 230.5h1M999 230.5h3M67 231.5h2M997 231.5h2M69 232.5h1M994 232.5h3M70 233.5h1M992 233.5h2M71 234.5h1M990 234.5h2M72 235.5h1M988 235.5h2M73 236.5h1M986 236.5h2M74 237.5h1M984 237.5h2M75 238.5h1M982 238.5h2M76 239.5h1M980 239.5h2M77 240.5h1M978 240.5h2M78 241.5h1M975 241.5h3M79 242.5h1M973 242.5h2M80 243.5h1M970 243.5h3M81 244.5h1M968 244.5h2M82 245.5h1M966 245.5h2M83 246.5h2M964 246.5h2M85 247.5h1M962 247.5h2M86 248.5h1M959 248.5h3M87 249.5h1M957 249.5h2M88 250.5h1M954 250.5h3M89 251.5h2M951 251.5h3M91 252.5h1M949 252.5h2M92 253.5h1M946 253.5h3M93 254.5h2M943 254.5h3M95 255.5h1M939 255.5h4M96 256.5h1M935 256.5h4M97 257.5h2M931 257.5h4M99 258.5h1M925 258.5h6M100 259.5h1M919 259.5h6M101 260.5h2M915 260.5h4M103 261.5h1M911 261.5h4M104 262.5h1M907 262.5h4M105 263.5h2M903 263.5h4M107 264.5h2M899 264.5h4M109 265.5h1M893 265.5h6M110 266.5h2M887 266.5h6M112 267.5h1M883 267.5h4M113 268.5h2M879 268.5h4M115 269.5h1M875 269.5h4M116 270.5h1M871 270.5h4M117 271.5h2M869 271.5h2M119 272.5h1M866 272.5h3M120 273.5h1M863 273.5h3M121 274.5h2M861 274.5h2M123 275.5h2M858 275.5h3M125 276.5h1M855 276.5h3M126 277.5h2M853 277.5h2M128 278.5h1M850 278.5h3M129 279.5h2M847 279.5h3M131 280.5h2M845 280.5h2M133 281.5h1M842 281.5h3M134 282.5h2M839 282.5h3M136 283.5h1M835 283.5h4M137 284.5h2M831 284.5h4M139 285.5h2M827 285.5h4M141 286.5h1M823 286.5h4M142 287.5h2M821 287.5h2M144 288.5h1M818 288.5h3M145 289.5h2M815 289.5h3M147 290.5h2M811 290.5h4M149 291.5h1M807 291.5h4M150 292.5h2M803 292.5h4M152 293.5h1M797 293.5h6M153 294.5h2M789 294.5h8M155 295.5h1M781 295.5h8M156 296.5h1M775 296.5h6M157 297.5h2M771 297.5h4M159 298.5h1M767 298.5h4M160 299.5h1M765 299.5h2M161 300.5h2M762 300.5h3M163 301.5h1M759 301.5h3M164 302.5h1M755 302.5h4M165 303.5h2M751 303.5h4M167 304.5h1M747 304.5h4M168 305.5h1M743 305.5h4M169 306.5h2M739 306.5h4M171 307.5h2M735 307.5h4M173 308.5h1M731 308.5h4M174 309.5h2M728 309.5h3M176 310.5h1M726 310.5h2M177 311.5h1M724 311.5h2M178 312.5h1M722 312.5h2M179 313.5h2M719 313.5h3M181 314.5h1M715 314.5h4M182 315.5h1M711 315.5h4M183 316.5h1M707 316.5h4M184 317.5h1M703 317.5h4M185 318.5h2M701 318.5h2M187 319.5h1M698 319.5h3M188 320.5h1M695 320.5h3M189 321.5h2M691 321.5h4M191 322.5h1M687 322.5h4M192 323.5h1M683 323.5h4M193 324.5h1M679 324.5h4M194 325.5h1M677 325.5h2M195 326.5h2M674 326.5h3M197 327.5h1M671 327.5h3M198 328.5h1M667 328.5h4M199 329.5h1M663 329.5h4M200 330.5h1M659 330.5h4M201 331.5h1M655 331.5h4M202 332.5h1M653 332.5h2M203 333.5h2M650 333.5h3M205 334.5h1M647 334.5h3M206 335.5h1M645 335.5h2M207 336.5h1M642 336.5h3M208 337.5h1M639 337.5h3M209 338.5h2M637 338.5h2M211 339.5h2M634 339.5h3M213 340.5h1M631 340.5h3M214 341.5h2M629 341.5h2M216 342.5h1M626 342.5h3M217 343.5h1M623 343.5h3M218 344.5h1M621 344.5h2M219 345.5h1M618 345.5h3M220 346.5h1M615 346.5h3M221 347.5h1M613 347.5h2M222 348.5h1M610 348.5h3M223 349.5h1M608 349.5h2M224 350.5h1M606 350.5h2M225 351.5h2M604 351.5h2M227 352.5h2M602 352.5h2M229 353.5h1M599 353.5h3M230 354.5h2M595 354.5h4M232 355.5h2M591 355.5h4M234 356.5h2M589 356.5h2M236 357.5h2M586 357.5h3M238 358.5h2M581 358.5h5M240 359.5h1M557 359.5h24M241 360.5h2M551 360.5h6M243 361.5h1M547 361.5h4M244 362.5h1M533 362.5h14M245 363.5h2M527 363.5h6M247 364.5h1M523 364.5h4M248 365.5h2M519 365.5h4M250 366.5h2M515 366.5h4M252 367.5h2M511 367.5h4M254 368.5h2M507 368.5h4M256 369.5h2M503 369.5h4M258 370.5h3M499 370.5h4M261 371.5h2M495 371.5h4M263 372.5h3M491 372.5h4M266 373.5h2M487 373.5h4M268 374.5h2M483 374.5h4M270 375.5h2M479 375.5h4M272 376.5h2M477 376.5h2M274 377.5h3M474 377.5h3M277 378.5h2M471 378.5h3M279 379.5h4M467 379.5h4M283 380.5h4M463 380.5h4M287 381.5h4M459 381.5h4M291 382.5h4M453 382.5h6M295 383.5h6M445 383.5h8M301 384.5h8M357 384.5h8M437 384.5h8M309 385.5h48M365 385.5h8M413 385.5h24M373 386.5h8M405 386.5h8M381 387.5h24" fill="none" stroke="#ff00ff" stroke-width="1"/>
<path class="ce" d="M1541 100.5h32M1535 101.5h6M1573 101.5h8M1531 102.5h4M1581 102.5h6M1527 103.5h4M1587 103.5h4M1525 104.5h2M1591 104.5h3M1522 105.5h3M1594 105.5h3M1519 106.5h3M1597 106.5h2M1517 107.5h2M1599 107.5h4M1514 108.5h3M1603 108.5h4M1511 109.5h3M1607 109.5h6M1509 110.5h2M1613 110.5h6M1506 111.5h3M1619 111.5h4M1504 112.5h2M1623 112.5h3M1502 113.5h2M1626 113.5h3M1500 114.5h2M1629 114.5h2M1498 115.5h2M1631 115.5h4M1496 116.5h2M1635 116.5h4M1494 117.5h2M1639 117.5h4M1492 118.5h2M1643 118.5h4M1490 119.5h2M1647 119.5h4M1488 120.5h2M1651 120.5h4M1486 121.5h2M1655 121.5h3M1485 122.5h1M1658 122.5h3M1483 123.5h2M1661 123.5h2M1481 124.5h2M1663 124.5h1M1479 125.5h2M1477 126.5h2M1474 127.5h3M1471 128.5h3M1469 129.5h2M1466 130.5h3M1463 131.5h3M1461 132.5h2M1458 133.5h3M1455 134.5h3M1451 135.5h4M1447 136.5h4M1443 137.5h4M1439 138.5h4M1173 139.5h16M1435 139.5h4M1159 140.5h14M1189 140.5h8M1431 140.5h4M1155 141.5h4M1197 141.5h6M1429 141.5h2M1143 142.5h12M1203 142.5h4M1426 142.5h3M1125 143.5h8M1139 143.5h4M1207 143.5h4M1423 143.5h3M1117 144.5h8M1133 144.5h6M1211 144.5h4M1421 144.5h2M1109 145.5h8M1215 145.5h3M1418 145.5h3M1103 146.5h6M1218 146.5h3M1415 146.5h3M1099 147.5h4M1221 147.5h2M1411 147.5h4M1093 148.5h6M1223 148.5h3M1407 148.5h4M1087 149.5h6M1226 149.5h3M1405 149.5h2M1083 150.5h4M1229 150.5h2M1402 150.5h3M1079 151.5h4M1231 151.5h4M1399 151.5h3M1077 152.5h2M1235 152.5h4M1397 152.5h2M1074 153.5h3M1239 153.5h4M1394 153.5h3M1071 154.5h3M1243 154.5h4M1391 154.5h3M1069 155.5h2M1247 155.5h4M1387 155.5h4M1066 156.5h3M1251 156.5h4M1383 156.5h4M1064 157.5h2M1255 157.5h4M1381 157.5h2M1062 158.5h2M1259 158.5h4M1378 158.5h3M1060 159.5h2M1263 159.5h3M1376 159.5h2M1058 160.5h2M1266 160.5h3M1374 160.5h2M1055 161.5h3M1269 161.5h2M1372 161.5h2M1053 162.5h2M1271 162.5h6M1370 162.5h2M1050 163.5h3M1277 163.5h6M1367 163.5h3M1045 164.5h5M1283 164.5h4M1365 164.5h2M1039 165.5h6M1287 165.5h4M1362 165.5h3M1035 166.5h4M1291 166.5h4M1359 166.5h3M997 167.5h8M1029 167.5h6M1295 167.5h6M1357 167.5h2M983 168.5h14M1005 168.5h24M1301 168.5h6M1354 168.5h3M979 169.5h4M1307 169.5h4M1351 169.5h3M973 170.5h6M1311 170.5h6M1347 170.5h4M967 171.5h6M1317 171.5h8M1341 171.5h6M965 172.5h2M1325 172.5h16M962 173.5h3M959 174.5h3M957 175.5h2M954 176.5h3M952 177.5h2M950 178.5h2M948 179.5h2M946 180.5h2M944 181.5h2M942 182.5h2M940 183.5h2M938 184.5h2M936 185.5h2M934 186.5h2M932 187.5h2M930 188.5h2M928 189.5h2M926 190.5h2M925 191.5h1M923 192.5h2M921 193.5h2M920 194.5h1M918 195.5h2M916 196.5h2M914 197.5h2M911 198.5h3M907 199.5h4M901 200.5h6M893 201.5h8M887 202.5h6M885 203.5h2M882 204.5h3M879 205.5h3M877 206.5h2M874 207.5h3M869 208.5h5M864 209.5h5M862 210.5h2M860 211.5h2M858 212.5h2M856 213.5h2M855 214.5h1M853 215.5h2M852 216.5h1M851 217.5h1M849 218.5h2M848 219.5h1M847 220.5h1M845 221.5h2M844 222.5h1M843 223.5h1M841 224.5h2M840 225.5h1M839 226.5h1M838 227.5h1M837 228.5h1M836 229.5h1M835 230.5h1M834 231.5h1M833 232.5h1M832 233.5h1M830 234.5h2M829 235.5h1M827 236.5h2M825 237.5h2M824 238.5h1M823 239.5h1M822 240.5h1M821 241.5h1M819 242.5h2M818 243.5h1M817 244.5h1M816 245.5h1M815 246.5h1M814 247.5h1M813 248.5h1M811 249.5h2M810 250.5h1M809 251.5h1M808 252.5h1M807 253.5h1M806 254.5h1M805 255.5h1M804 256.5h1M803 257.5h1M802 258.5h1M801 259.5h1M800 260.5h1M799 261.5h1M798 262.5h1M797 263.5h1M795 264.5h2M794 265.5h1M793 266.5h1M792 267.5h1M790 268.5h2M789 269.5h1M787 270.5h2M785 271.5h2M784 272.5h1M782 273.5h2M781 274.5h1M779 275.5h2M777 276.5h2M776 277.5h1M774 278.5h2M772 279.5h2M770 280.5h2M768 281.5h2M766 282.5h2M764 283.5h2M762 284.5h2M760 285.5h2M758 286.5h2M756 287.5h2M754 288.5h2M752 289.5h2M750 290.5h2M504 291.5h5M748 291.5h2M502 292.5h2M509 292.5h6M746 292.5h2M501 293.5h1M515 293.5h4M744 293.5h2M499 294.5h2M519 294.5h3M743 294.5h1M497 295.5h2M522 295.5h3M741 295.5h2M496 296.5h1M525 296.5h2M740 296.5h1M494 297.5h2M527 297.5h3M739 297.5h1M493 298.5h1M530 298.5h2M737 298.5h2M491 299.5h2M532 299.5h2M736 299.5h1M489 300.5h2M534 300.5h2M735 300.5h1M488 301.5h1M536 301.5h3M734 301.5h1M486 302.5h2M539 302.5h4M733 302.5h1M484 303.5h2M543 303.5h4M731 303.5h2M482 304.5h2M547 304.5h4M730 304.5h1M480 305.5h2M551 305.5h4M729 305.5h1M478 306.5h2M555 306.5h4M728 306.5h1M476 307.5h2M559 307.5h6M727 307.5h1M474 308.5h2M565 308.5h8M597 308.5h8M725 308.5h2M472 309.5h2M573 309.5h24M605 309.5h5M724 309.5h1M470 310.5h2M610 310.5h3M723 310.5h1M468 311.5h2M613 311.5h2M721 311.5h2M8 312.5h2M466 312.5h2M615 312.5h3M720 312.5h1M10 313.5h3M464 313.5h2M618 313.5h3M718 313.5h2M13 314.5h2M462 314.5h2M621 314.5h2M717 314.5h1M15 315.5h2M461 315.5h1M623 315.5h4M715 315.5h2M17 316.5h2M459 316.5h2M627 316.5h4M713 316.5h2M19 317.5h2M457 317.5h2M631 317.5h3M712 317.5h1M21 318.5h1M456 318.5h1M634 318.5h2M710 318.5h2M22 319.5h2M455 319.5h1M636 319.5h2M709 319.5h1M24 320.5h1M453 320.5h2M638 320.5h2M707 320.5h2M25 321.5h2M452 321.5h1M640 321.5h1M705 321.5h2M27 322.5h1M451 322.5h1M641 322.5h2M704 322.5h1M28 323.5h1M449 323.5h2M643 323.5h2M702 323.5h2M29 324.5h2M447 324.5h2M645 324.5h1M701 324.5h1M31 325.5h1M445 325.5h2M646 325.5h2M699 325.5h2M32 326.5h2M442 326.5h3M648 326.5h2M697 326.5h2M34 327.5h3M440 327.5h2M650 327.5h3M695 327.5h2M37 328.5h2M438 328.5h2M653 328.5h2M693 328.5h2M39 329.5h3M436 329.5h2M655 329.5h3M690 329.5h3M42 330.5h3M434 330.5h2M658 330.5h3M685 330.5h5M45 331.5h2M431 331.5h3M661 331.5h2M677 331.5h8M47 332.5h6M61 332.5h4M427 332.5h4M663 332.5h14M53 333.5h8M65 333.5h1M423 333.5h4M66 334.5h1M419 334.5h4M67 335.5h2M415 335.5h4M69 336.5h1M413 336.5h2M70 337.5h1M410 337.5h3M71 338.5h1M408 338.5h2M72 339.5h1M406 339.5h2M73 340.5h1M405 340.5h1M74 341.5h1M403 341.5h2M75 342.5h1M401 342.5h2M76 343.5h1M400 343.5h1M77 344.5h1M399 344.5h1M78 345.5h1M397 345.5h2M79 346.5h1M396 346.5h1M80 347.5h2M395 347.5h1M82 348.5h2M393 348.5h2M84 349.5h2M392 349.5h1M86 350.5h2M391 350.5h1M88 351.5h1M390 351.5h1M89 352.5h1M389 352.5h1M90 353.5h1M387 353.5h2M91 354.5h1M386 354.5h1M92 355.5h1M385 355.5h1M93 356.5h1M384 356.5h1M94 357.5h1M383 357.5h1M95 358.5h1M382 358.5h1M96 359.5h1M381 359.5h1M97 360.5h1M380 360.5h1M98 361.5h1M380 361.5h1M99 362.5h1M379 362.5h1M100 363.5h1M378 363.5h1M101 364.5h1M377 364.5h1M102 365.5h1M376 365.5h1M103 366.5h1M375 366.5h1M104 367.5h1M374 367.5h1M105 368.5h1M373 368.5h1M106 369.5h1M372 369.5h1M107 370.5h2M371 370.5h1M109 371.5h1M370 371.5h1M110 372.5h1M369 372.5h1M111 373.5h1M368 373.5h1M112 374.5h2M367 374.5h1M114 375.5h2M367 375.5h1M116 376.5h2M366 376.5h1M118 377.5h2M365 377.5h1M120 378.5h2M364 378.5h1M122 379.5h2M364 379.5h1M124 380.5h2M135 380.5h4M363 380.5h1M126 381.5h2M131 381.5h4M139 381.5h4M362 381.5h1M128 382.5h3M143 382.5h2M361 382.5h1M145 383.5h2M361 383.5h1M147 384.5h2M360 384.5h1M149 385.5h1M359 385.5h1M150 386.5h2M359 386.5h1M152 387.5h1M358 387.5h1M153 388.5h2M357 388.5h1M155 389.5h1M357 389.5h1M156 390.5h1M356 390.5h1M157 391.5h2M355 391.5h1M159 392.5h1M355 392.5h1M160 393.5h1M354 393.5h1M161 394.5h2M353 394.5h1M163 395.5h1M353 395.5h1M164 396.5h1M352 396.5h1M165 397.5h2M351 397.5h1M167 398.5h1M351 398.5h1M168 399.5h1M350 399.5h1M169 400.5h1M349 400.5h1M170 401.5h1M348 401.5h1M171 402.5h1M348 402.5h1M172 403.5h1M347 403.5h1M172 404.5h1M346 404.5h1M173 405.5h1M345 405.5h1M174 406.5h1M345 406.5h1M175 407.5h1M344 407.5h1M176 408.5h1M343 408.5h1M177 409.5h1M342 409.5h1M178 410.5h1M342 410.5h1M179 411.5h1M341 411.5h1M180 412.5h1M340 412.5h1M180 413.5h1M339 413.5h1M181 414.5h1M338 414.5h1M182 415.5h1M338 415.5h1M183 416.5h1M337 416.5h1M184 417.5h1M336 417.5h1M185 418.5h2M335 418.5h1M187 419.5h1M334 419.5h1M188 420.5h1M333 420.5h1M189 421.5h2M331 421.5h2M191 422.5h1M330 422.5h1M192 423.5h1M329 423.5h1M193 424.5h2M328 424.5h1M195 425.5h1M326 425.5h2M196 426.5h1M324 426.5h2M197 427.5h2M322 427.5h2M199 428.5h1M320 428.5h2M200 429.5h1M318 429.5h2M201 430.5h2M316 430.5h2M203 431.5h2M314 431.5h2M205 432.5h1M311 432.5h3M206 433.5h2M309 433.5h2M208 434.5h2M306 434.5h3M210 435.5h2M285 435.5h21M212 436.5h2M279 436.5h6M214 437.5h2M277 437.5h2M216 438.5h2M274 438.5h3M218 439.5h3M261 439.5h13M221 440.5h2M255 440.5h6M223 441.5h3M251 441.5h4M226 442.5h3M245 442.5h6M229 443.5h2M237 443.5h8M231 444.5h6" fill="none" stroke="#ffa500" stroke-width="1"/>
</g>
<rect class="ce" x="8" y="37" width="1675" height="2" fill="#ff0000"/>
<rect class="ce" x="8" y="110" width="1675" height="2" fill="#32cd32"/>
<rect class="ce" x="8" y="196" width="1675" height="2" fill="#4169e1"/>
<rect class="ce" x="8" y="254" width="1675" height="2" fill="#4169e1"/>
<rect class="ce" x="8" y="319" width="1675" height="2" fill="#4169e1"/>
</g>
<g id="macd">
<rect class="ce" x="8" y="593" width="1" height="60" fill="#c0c0c0"/>
<rect class="ce" x="16" y="593" width="1" height="54" fill="#c0c0c0"/>
<rect class="ce" x="24" y="593" width="1" height="57" fill="#c0c0c0"/>
<rect class="ce" x="32" y="593" width="1" height="59" fill="#c0c0c0"/>
<rect class="ce" x="40" y="593" width="1" height="60" fill="#c0c0c0"/>
<rect class="ce" x="48" y="593" width="1" height="60" fill="#c0c0c0"/>
<rect class="ce" x="56" y="593" width="1" height="59" fill="#c0c0c0"/>
<rect class="ce" x="64" y="593" width="1" height="56" fill="#c0c0c0"/>
<rect class="ce" x="72" y="593" width="1" height="63" fill="#c0c0c0"/>
<rect class="ce" x="80" y="593" width="1" height="63" fill="#c0c0c0"/>
<rect class="ce" x="88" y="593" width="1" height="63" fill="#c0c0c0"/>
<rect class="ce" x="96" y="593" width="1" height="57" fill="#c0c0c0"/>
<rect class="ce" x="104" y="593" width="1" height="53" fill="#c0c0c0"/>
<rect class="ce" x="112" y="593" width="1" height="53" fill="#c0c0c0"/>
<rect class="ce" x="120" y="593" width="1" height="50" fill="#c0c0c0"/>
<rect class="ce" x="128" y="593" width="1" height="42" fill="#c0c0c0"/>
<rect class="ce" x="136" y="593" width="1" height="36" fill="#c0c0c0"/>
<rect class="ce" x="144" y="593" width="1" height="35" fill="#c0c0c0"/>
<rect class="ce" x="152" y="593" width="1" height="40" fill="#c0c0c0"/>
<rect class="ce" x="160" y="593" width="1" height="44" fill="#c0c0c0"/>
<rect class="ce" x="168" y="593" width="1" height="53" fill="#c0c0c0"/>
<rect class="ce" x="176" y="593" width="1" height="58" fill="#c0c0c0"/>
<rect class="ce" x="184" y="593" width="1" height="61" fill="#c0c0c0"/>
<rect class="ce" x="192" y="593" width="1" height="63" fill="#c0c0c0"/>
<rect class="ce" x="200" y="593" width="1" height="64" fill="#c0c0c0"/>
<rect class="ce" x="208" y="593" width="1" height="63" fill="#c0c0c0"/>
<rect class="ce" x="216" y="593" width="1" height="59" fill="#c0c0c0"/>
<rect class="ce" x="224" y="593" width="1" height="53" fill="#c0c0c0"/>
<rect class="ce" x="232" y="593" width="1" height="47" fill="#c0c0c0"/>
<rect class="ce" x="240" y="593" width="1" height="40" fill="#c0c0c0"/>
<rect class="ce" x="248" y="593" width="1" height="29" fill="#c0c0c0"/>
<rect class="ce" x="256" y="593" width="1" height="18" fill="#c0c0c0"/>
<rect class="ce" x="264" y="593" width="1" height="11" fill="#c0c0c0"/>
<rect class="ce" x="272" y="593" width="1" height="5" fill="#c0c0c0"/>
<rect class="ce" x="280" y="591" width="1" height="3" fill="#c0c0c0"/>
<rect class="ce" x="288" y="588" width="1" height="6" fill="#c0c0c0"/>
<rect class="ce" x="296" y="583" width="1" height="11" fill="#c0c0c0"/>
<rect class="ce" x="304" y="579" width="1" height="15" fill="#c0c0c0"/>
<rect class="ce" x="312" y="575" width="1" height="19" fill="#c0c0c0"/>
<rect class="ce" x="320" y="574" width="1" height="20" fill="#c0c0c0"/>
<rect class="ce" x="328" y="575" width="1" height="19" fill="#c0c0c0"/>
<rect class="ce" x="336" y="576" width="1" height="18" fill="#c0c0c0"/>
<rect class="ce" x="344" y="567" width="1" height="27" fill="#c0c0c0"/>
<rect class="ce" x="352" y="558" width="1" height="36" fill="#c0c0c0"/>
<rect class="ce" x="360" y="550" width="1" height="44" fill="#c0c0c0"/>
<rect class="ce" x="368" y="548" width="1" height="46" fill="#c0c0c0"/>
<rect class="ce" x="376" y="547" width="1" height="47" fill="#c0c0c0"/>
<rect class="ce" x="384" y="549" width="1" height="45" fill="#c0c0c0"/>
<rect class="ce" x="392" y="552" width="1" height="42" fill="#c0c0c0"/>
<rect class="ce" x="400" y="555" width="1" height="39" fill="#c0c0c0"/>
<rect class="ce" x="408" y="557" width="1" height="37" fill="#c0c0c0"/>
<rect class="ce" x="416" y="562" width="1" height="32" fill="#c0c0c0"/>
<rect class="ce" x="424" y="565" width="1" height="29" fill="#c0c0c0"/>
<rect class="ce" x="432" y="568" width="1" height="26" fill="#c0c0c0"/>
<rect class="ce" x="440" y="569" width="1" height="25" fill="#c0c0c0"/>
<rect class="ce" x="448" y="566" width="1" height="28" fill="#c0c0c0"/>
<rect class="ce" x="456" y="562" width="1" height="32" fill="#c0c0c0"/>
<rect class="ce" x="464" y="560" width="1" height="34" fill="#c0c0c0"/>
<rect class="ce" x="472" y="558" width="1" height="36" fill="#c0c0c0"/>
<rect class="ce" x="480" y="557" width="1" height="37" fill="#c0c0c0"/>
<rect class="ce" x="488" y="557" width="1" height="37" fill="#c0c0c0"/>
<rect class="ce" x="496" y="557" width="1" height="37" fill="#c0c0c0"/>
<rect class="ce" x="504" y="560" width="1" height="34" fill="#c0c0c0"/>
<rect class="ce" x="512" y="566" width="1" height="28" fill="#c0c0c0"/>
<rect class="ce" x="520" y="571" width="1" height="23" fill="#c0c0c0"/>
<rect class="ce" x="528" y="578" width="1" height="16" fill="#c0c0c0"/>
<rect class="ce" x="536" y="584" width="1" height="10" fill="#c0c0c0"/>
<rect class="ce" x="544" y="589" width="1" height="5" fill="#c0c0c0"/>
<rect class="ce" x="560" y="593" width="1" height="4" fill="#c0c0c0"/>
<rect class="ce" x="568" y="593" width="1" height="5" fill="#c0c0c0"/>
<rect class="ce" x="576" y="593" width="1" height="6" fill="#c0c0c0"/>
<rect class="ce" x="584" y="593" width="1" height="7" fill="#c0c0c0"/>
<rect class="ce" x="592" y="593" width="1" height="6" fill="#c0c0c0"/>
<rect class="ce" x="600" y="593" width="1" height="5" fill="#c0c0c0"/>
<rect class="ce" x="608" y="593" width="1" height="4" fill="#c0c0c0"/>
<rect class="ce" x="616" y="593" width="1" height="5" fill="#c0c0c0"/>
<rect class="ce" x="624" y="593" width="1" height="5" fill="#c0c0c0"/>
<rect class="ce" x="632" y="593" width="1" height="4" fill="#c0c0c0"/>
<rect class="ce" x="640" y="593" width="1" height="5" fill="#c0c0c0"/>
<rect class="ce" x="648" y="593" width="1" height="6" fill="#c0c0c0"/>
<rect class="ce" x="656" y="593" width="1" height="6" fill="#c0c0c0"/>
<rect class="ce" x="664" y="593" width="1" height="5" fill="#c0c0c0"/>
<rect class="ce" x="672" y="593" width="1" height="1" fill="#c0c0c0"/>
<rect class="ce" x="680" y="590" width="1" height="4" fill="#c0c0c0"/>
<rect class="ce" x="688" y="586" width="1" height="8" fill="#c0c0c0"/>
<rect class="ce" x="696" y="582" width="1" height="12" fill="#c0c0c0"/>
<rect class="ce" x="704" y="576" width="1" height="18" fill="#c0c0c0"/>
<rect class="ce" x="712" y="570" width="1" height="24" fill="#c0c0c0"/>
<rect class="ce" x="720" y="568" width="1" height="26" fill="#c0c0c0"/>
<rect class="ce" x="728" y="562" width="1" height="32" fill="#c0c0c0"/>
<rect class="ce" x="736" y="557" width="1" height="37" fill="#c0c0c0"/>
<rect class="ce" x="744" y="553" width="1" height="41" fill="#c0c0c0"/>
<rect class="ce" x="752" y="556" width="1" height="38" fill="#c0c0c0"/>
<rect class="ce" x="760" y="557" width="1" height="37" fill="#c0c0c0"/>
<rect class="ce" x="768" y="560" width="1" height="34" fill="#c0c0c0"/>
<rect class="ce" x="776" y="560" width="1" height="34" fill="#c0c0c0"/>
<rect class="ce" x="784" y="562" width="1" height="32" fill="#c0c0c0"/>
<rect class="ce" x="792" y="560" width="1" height="34" fill="#c0c0c0"/>
<rect class="ce" x="800" y="557" width="1" height="37" fill="#c0c0c0"/>
<rect class="ce" x="808" y="555" width="1" height="39" fill="#c0c0c0"/>
<rect class="ce" x="816" y="554" width="1" height="40" fill="#c0c0c0"/>
<rect class="ce" x="824" y="552" width="1" height="42" fill="#c0c0c0"/>
<rect class="ce" x="832" y="554" width="1" height="40" fill="#c0c0c0"/>
<rect class="ce" x="840" y="551" width="1" height="43" fill="#c0c0c0"/>
<rect class="ce" x="848" y="550" width="1" height="44" fill="#c0c0c0"/>
<rect class="ce" x="856" y="550" width="1" height="44" fill="#c0c0c0"/>
<rect class="ce" x="864" y="552" width="1" height="42" fill="#c0c0c0"/>
<rect class="ce" x="872" y="555" width="1" height="39" fill="#c0c0c0"/>
<rect class="ce" x="880" y="558" width="1" height="36" fill="#c0c0c0"/>
<rect class="ce" x="888" y="559" width="1" height="35" fill="#c0c0c0"/>
<rect class="ce" x="896" y="562" width="1" height="32" fill="#c0c0c0"/>
<rect class="ce" x="904" y="564" width="1" height="30" fill="#c0c0c0"/>
<rect class="ce" x="912" y="564" width="1" height="30" fill="#c0c0c0"/>
<rect class="ce" x="920" y="563" width="1" height="31" fill="#c0c0c0"/>
<rect class="ce" x="928" y="563" width="1" height="31" fill="#c0c0c0"/>
<rect class="ce" x="936" y="563" width="1" height="31" fill="#c0c0c0"/>
<rect class="ce" x="944" y="563" width="1" height="31" fill="#c0c0c0"/>
<rect class="ce" x="952" y="561" width="1" height="33" fill="#c0c0c0"/>
<rect class="ce" x="960" y="560" width="1" height="34" fill="#c0c0c0"/>
<rect class="ce" x="968" y="560" width="1" height="34" fill="#c0c0c0"/>
<rect class="ce" x="976" y="561" width="1" height="33" fill="#c0c0c0"/>
<rect class="ce" x="984" y="565" width="1" height="29" fill="#c0c0c0"/>
<rect class="ce" x="992" y="569" width="1" height="25" fill="#c0c0c0"/>
<rect class="ce" x="1000" y="572" width="1" height="22" fill="#c0c0c0"/>
<rect class="ce" x="1008" y="576" width="1" height="18" fill="#c0c0c0"/>
<rect class="ce" x="1016" y="579" width="1" height="15" fill="#c0c0c0"/>
<rect class="ce" x="1024" y="579" width="1" height="15" fill="#c0c0c0"/>
<rect class="ce" x="1032" y="580" width="1" height="14" fill="#c0c0c0"/>
<rect class="ce" x="1040" y="580" width="1" height="14" fill="#c0c0c0"/>
<rect class="ce" x="1048" y="581" width="1" height="13" fill="#c0c0c0"/>
<rect class="ce" x="1056" y="576" width="1" height="18" fill="#c0c0c0"/>
<rect class="ce" x="1064" y="572" width="1" height="22" fill="#c0c0c0"/>
<rect class="ce" x="1072" y="571" width="1" height="23" fill="#c0c0c0"/>
<rect class="ce" x="1080" y="569" width="1" height="25" fill="#c0c0c0"/>
<rect class="ce" x="1088" y="571" width="1" height="23" fill="#c0c0c0"/>
<rect class="ce" x="1096" y="570" width="1" height="24" fill="#c0c0c0"/>
<rect class="ce" x="1104" y="569" width="1" height="25" fill="#c0c0c0"/>
<rect class="ce" x="1112" y="570" width="1" height="24" fill="#c0c0c0"/>
<rect class="ce" x="1120" y="570" width="1" height="24" fill="#c0c0c0"/>
<rect class="ce" x="1128" y="571" width="1" height="23" fill="#c0c0c0"/>
<rect class="ce" x="1136" y="575" width="1" height="19" fill="#c0c0c0"/>
<rect class="ce" x="1144" y="575" width="1" height="19" fill="#c0c0c0"/>
<rect class="ce" x="1152" y="579" width="1" height="15" fill="#c0c0c0"/>
<rect class="ce" x="1160" y="581" width="1" height="13" fill="#c0c0c0"/>
<rect class="ce" x="1168" y="585" width="1" height="9" fill="#c0c0c0"/>
<rect class="ce" x="1176" y="589" width="1" height="5" fill="#c0c0c0"/>
<rect class="ce" x="1184" y="593" width="1" height="1" fill="#c0c0c0"/>
<rect class="ce" x="1192" y="593" width="1" height="4" fill="#c0c0c0"/>
<rect class="ce" x="1200" y="593" width="1" height="9" fill="#c0c0c0"/>
<rect class="ce" x="1208" y="593" width="1" height="11" fill="#c0c0c0"/>
<rect class="ce" x="1216" y="593" width="1" height="13" fill="#c0c0c0"/>
<rect class="ce" x="1224" y="593" width="1" height="13" fill="#c0c0c0"/>
<rect class="ce" x="1232" y="593" width="1" height="13" fill="#c0c0c0"/>
<rect class="ce" x="1240" y="593" width="1" height="11" fill="#c0c0c0"/>
<rect class="ce" x="1248" y="593" width="1" height="9" fill="#c0c0c0"/>
<rect class="ce" x="1256" y="593" width="1" height="7" fill="#c0c0c0"/>
<rect class="ce" x="1264" y="593" width="1" height="7" fill="#c0c0c0"/>
<rect class="ce" x="1272" y="593" width="1" height="7" fill="#c0c0c0"/>
<rect class="ce" x="1280" y="593" width="1" height="5" fill="#c0c0c0"/>
<rect class="ce" x="1288" y="593" width="1" height="2" fill="#c0c0c0"/>
<rect class="ce" x="1296" y="593" width="1" height="2" fill="#c0c0c0"/>
<rect class="ce" x="1304" y="593" width="1" height="3" fill="#c0c0c0"/>
<rect class="ce" x="1312" y="593" width="1" height="4" fill="#c0c0c0"/>
<rect class="ce" x="1320" y="593" width="1" height="4" fill="#c0c0c0"/>
<rect class="ce" x="1328" y="593" width="1" height="2" fill="#c0c0c0"/>
<rect class="ce" x="1336" y="593" width="1" height="2" fill="#c0c0c0"/>
<rect class="ce" x="1344" y="593" width="1" height="1" fill="#c0c0c0"/>
<rect class="ce" x="1352" y="590" width="1" height="4" fill="#c0c0c0"/>
<rect class="ce" x="1360" y="589" width="1" height="5" fill="#c0c0c0"/>
<rect class="ce" x="1368" y="587" width="1" height="7" fill="#c0c0c0"/>
<rect class="ce" x="1376" y="584" width="1" height="10" fill="#c0c0c0"/>
<rect class="ce" x="1384" y="582" width="1" height="12" fill="#c0c0c0"/>
<rect class="ce" x="1392" y="580" width="1" height="14" fill="#c0c0c0"/>
<rect class="ce" x="1400" y="578" width="1" height="16" fill="#c0c0c0"/>
<rect class="ce" x="1408" y="577" width="1" height="17" fill="#c0c0c0"/>
<rect class="ce" x="1416" y="577" width="1" height="17" fill="#c0c0c0"/>
<rect class="ce" x="1424" y="576" width="1" height="18" fill="#c0c0c0"/>
<rect class="ce" x="1432" y="574" width="1" height="20" fill="#c0c0c0"/>
<rect class="ce" x="1440" y="575" width="1" height="19" fill="#c0c0c0"/>
<rect class="ce" x="1448" y="576" width="1" height="18" fill="#c0c0c0"/>
<rect class="ce" x="1456" y="576" width="1" height="18" fill="#c0c0c0"/>
<rect class="ce" x="1464" y="575" width="1" height="19" fill="#c0c0c0"/>
<rect class="ce" x="1472" y="575" width="1" height="19" fill="#c0c0c0"/>
<rect class="ce" x="1480" y="575" width="1" height="19" fill="#c0c0c0"/>
<rect class="ce" x="1488" y="573" width="1" height="21" fill="#c0c0c0"/>
<rect class="ce" x="1496" y="572" width="1" height="22" fill="#c0c0c0"/>
<rect class="ce" x="1504" y="569" width="1" height="25" fill="#c0c0c0"/>
<rect class="ce" x="1512" y="567" width="1" height="27" fill="#c0c0c0"/>
<rect class="ce" x="1520" y="567" width="1" height="27" fill="#c0c0c0"/>
<rect class="ce" x="1528" y="568" width="1" height="26" fill="#c0c0c0"/>
<rect class="ce" x="1536" y="572" width="1" height="22" fill="#c0c0c0"/>
<rect class="ce" x="1544" y="574" width="1" height="20" fill="#c0c0c0"/>
<rect class="ce" x="1552" y="578" width="1" height="16" fill="#c0c0c0"/>
<rect class="ce" x="1560" y="582" width="1" height="12" fill="#c0c0c0"/>
<rect class="ce" x="1568" y="586" width="1" height="8" fill="#c0c0c0"/>
<rect class="ce" x="1576" y="590" width="1" height="4" fill="#c0c0c0"/>
<rect class="ce" x="1592" y="593" width="1" height="3" fill="#c0c0c0"/>
<rect class="ce" x="1600" y="593" width="1" height="5" fill="#c0c0c0"/>
<rect class="ce" x="1608" y="593" width="1" height="11" fill="#c0c0c0"/>
<rect class="ce" x="1616" y="593" width="1" height="13" fill="#c0c0c0"/>
<rect class="ce" x="1624" y="593" width="1" height="13" fill="#c0c0c0"/>
<rect class="ce" x="1632" y="593" width="1" height="15" fill="#c0c0c0"/>
<rect class="ce" x="1640" y="593" width="1" height="15" fill="#c0c0c0"/>
<rect class="ce" x="1648" y="593" width="1" height="13" fill="#c0c0c0"/>
<rect class="ce" x="1656" y="593" width="1" height="12" fill="#c0c0c0"/>
<rect class="ce" x="1664" y="593" width="1" height="11" fill="#c0c0c0"/>
<path class="ce" d="M416 552.5h3M861 552.5h2M866 552.5h3M872 552.5h3M878 552.5h3M884 552.5h1M410 553.5h3M422 553.5h3M428 553.5h1M854 553.5h3M860 553.5h1M885 553.5h2M890 553.5h3M404 554.5h3M429 554.5h2M848 554.5h3M896 554.5h3M902 554.5h3M399 555.5h2M434 555.5h3M837 555.5h2M842 555.5h3M908 555.5h3M398 556.5h1M830 556.5h3M836 556.5h1M914 556.5h1M392 557.5h3M440 557.5h3M800 557.5h3M806 557.5h3M812 557.5h3M818 557.5h3M824 557.5h3M915 557.5h2M387 558.5h2M446 558.5h1M789 558.5h2M794 558.5h3M920 558.5h3M386 559.5h1M447 559.5h2M452 559.5h1M512 559.5h3M782 559.5h3M788 559.5h1M926 559.5h3M932 559.5h1M381 560.5h2M453 560.5h2M458 560.5h1M501 560.5h2M506 560.5h3M518 560.5h3M524 560.5h1M776 560.5h3M933 560.5h2M938 560.5h3M380 561.5h1M459 561.5h2M488 561.5h3M494 561.5h3M500 561.5h1M525 561.5h2M771 561.5h2M944 561.5h3M950 561.5h3M956 561.5h3M962 561.5h3M968 561.5h3M974 561.5h3M980 561.5h3M986 561.5h3M376 562.5h1M464 562.5h3M470 562.5h3M476 562.5h3M482 562.5h3M530 562.5h3M770 562.5h1M992 562.5h3M374 563.5h2M764 563.5h3M998 563.5h3M1004 563.5h1M536 564.5h2M759 564.5h2M1005 564.5h2M1010 564.5h1M370 565.5h1M538 565.5h1M758 565.5h1M1011 565.5h2M368 566.5h2M754 566.5h1M1016 566.5h3M542 567.5h2M752 567.5h2M1022 567.5h1M364 568.5h1M544 568.5h1M1023 568.5h2M362 569.5h2M548 569.5h1M748 569.5h1M1028 569.5h3M1119 569.5h2M1124 569.5h3M1130 569.5h3M1136 569.5h3M549 570.5h2M746 570.5h2M1034 570.5h1M1118 570.5h1M1142 570.5h3M1148 570.5h1M1526 570.5h3M1532 570.5h3M1538 570.5h3M1544 570.5h3M1550 570.5h3M1556 570.5h1M358 571.5h1M1035 571.5h2M1112 571.5h3M1149 571.5h2M1154 571.5h3M1520 571.5h3M1557 571.5h2M1562 571.5h1M356 572.5h2M554 572.5h1M742 572.5h1M1040 572.5h2M1101 572.5h2M1106 572.5h3M1160 572.5h3M1509 572.5h2M1514 572.5h3M1563 572.5h2M555 573.5h2M740 573.5h2M1042 573.5h1M1094 573.5h3M1100 573.5h1M1166 573.5h1M1502 573.5h3M1508 573.5h1M1568 573.5h3M352 574.5h1M1046 574.5h1M1088 574.5h3M1167 574.5h2M1485 574.5h2M1490 574.5h3M1496 574.5h3M1574 574.5h1M350 575.5h2M736 575.5h1M1047 575.5h2M1052 575.5h1M1077 575.5h2M1082 575.5h3M1172 575.5h3M1454 575.5h3M1460 575.5h3M1466 575.5h3M1472 575.5h3M1478 575.5h3M1484 575.5h1M1575 575.5h2M560 576.5h1M734 576.5h2M1053 576.5h2M1058 576.5h3M1064 576.5h3M1070 576.5h3M1076 576.5h1M1178 576.5h1M1448 576.5h3M1580 576.5h1M346 577.5h1M561 577.5h2M1179 577.5h2M1437 577.5h2M1442 577.5h3M1581 577.5h2M344 578.5h2M1184 578.5h2M1431 578.5h2M1436 578.5h1M729 579.5h2M1186 579.5h1M1430 579.5h1M1586 579.5h3M338 580.5h3M566 580.5h2M728 580.5h1M1424 580.5h3M568 581.5h1M1190 581.5h2M1419 581.5h2M1592 581.5h2M334 582.5h1M724 582.5h1M1192 582.5h1M1418 582.5h1M1594 582.5h1M332 583.5h2M572 583.5h2M722 583.5h2M1196 583.5h1M1412 583.5h3M574 584.5h1M1197 584.5h2M1407 584.5h2M1598 584.5h2M328 585.5h1M718 585.5h1M1406 585.5h1M1600 585.5h1M326 586.5h2M578 586.5h2M716 586.5h2M1202 586.5h2M1400 586.5h3M1604 586.5h1M580 587.5h1M1204 587.5h1M1395 587.5h2M1605 587.5h2M322 588.5h1M711 588.5h2M1394 588.5h1M320 589.5h2M584 589.5h2M710 589.5h1M1208 589.5h2M1388 589.5h3M1610 589.5h2M586 590.5h1M706 590.5h1M1210 590.5h1M1382 590.5h3M1612 590.5h1M590 591.5h1M704 591.5h2M1214 591.5h1M1376 591.5h3M315 592.5h2M591 592.5h2M1215 592.5h2M1371 592.5h2M1616 592.5h2M314 593.5h1M596 593.5h1M698 593.5h3M1365 593.5h2M1370 593.5h1M1618 593.5h1M597 594.5h2M1220 594.5h2M1358 594.5h3M1364 594.5h1M1622 594.5h1M602 595.5h1M692 595.5h3M1222 595.5h1M1352 595.5h3M1623 595.5h2M310 596.5h1M603 596.5h2M686 596.5h3M1226 596.5h1M1341 596.5h2M1346 596.5h3M1628 596.5h1M309 597.5h1M608 597.5h3M680 597.5h3M1227 597.5h2M1328 597.5h3M1334 597.5h3M1340 597.5h1M1629 597.5h2M308 598.5h1M614 598.5h3M620 598.5h1M669 598.5h2M674 598.5h3M1232 598.5h2M1317 598.5h2M1322 598.5h3M621 599.5h2M626 599.5h3M632 599.5h3M638 599.5h3M644 599.5h3M650 599.5h3M656 599.5h3M662 599.5h3M668 599.5h1M1234 599.5h1M1304 599.5h3M1310 599.5h3M1316 599.5h1M1634 599.5h3M1238 600.5h1M1298 600.5h3M304 601.5h1M1239 601.5h2M1244 601.5h1M1292 601.5h3M1640 601.5h3M303 602.5h1M1245 602.5h2M1250 602.5h3M1286 602.5h3M1646 602.5h1M302 603.5h1M1256 603.5h3M1280 603.5h3M1647 603.5h2M1652 603.5h1M1262 604.5h3M1268 604.5h3M1274 604.5h3M1653 604.5h2M1658 604.5h3M298 606.5h1M297 607.5h1M296 608.5h1M292 612.5h1M291 613.5h1M290 614.5h1M285 618.5h2M284 619.5h1M280 622.5h1M279 623.5h1M278 624.5h1M274 627.5h1M273 628.5h1M272 629.5h1M267 633.5h2M266 634.5h1M165 638.5h2M170 638.5h3M262 638.5h1M159 639.5h2M164 639.5h1M176 639.5h3M261 639.5h1M158 640.5h1M182 640.5h3M260 640.5h1M152 641.5h3M188 641.5h3M147 642.5h2M194 642.5h3M146 643.5h1M200 643.5h2M255 643.5h2M141 644.5h2M202 644.5h1M254 644.5h1M140 645.5h1M206 645.5h1M250 645.5h1M135 646.5h2M207 646.5h2M248 646.5h2M134 647.5h1M212 647.5h3M130 648.5h1M244 648.5h1M128 649.5h2M218 649.5h3M242 649.5h2M123 650.5h2M237 650.5h2M117 651.5h2M122 651.5h1M224 651.5h3M230 651.5h3M236 651.5h1M56 652.5h3M62 652.5h3M68 652.5h3M74 652.5h3M80 652.5h3M110 652.5h3M116 652.5h1M8 653.5h3M14 653.5h3M20 653.5h3M26 653.5h3M38 653.5h3M44 653.5h3M50 653.5h3M86 653.5h3M92 653.5h3M98 653.5h3M104 653.5h3M32 654.5h3" fill="none" stroke="#ff0000" stroke-width="1"/>
</g>
<g id="rsi">
<line class="ce" x1="9" y1="697.5" x2="1683" y2="697.5" stroke="#c0c0c0" stroke-width="1" stroke-dasharray="3 3"/>
<line class="ce" x1="9" y1="739.5" x2="1683" y2="739.5" stroke="#c0c0c0" stroke-width="1" stroke-dasharray="3 3"/>
<path class="ce" d="M733 695.5h8M711 696.5h2M728 696.5h5M741 696.5h4M707 697.5h4M713 697.5h1M727 697.5h1M745 697.5h1M824 697.5h1M1432 697.5h1M1511 697.5h2M357 698.5h4M704 698.5h3M714 698.5h1M726 698.5h1M745 698.5h1M800 698.5h10M822 698.5h2M825 698.5h1M1430 698.5h2M1433 698.5h1M1507 698.5h4M1513 698.5h2M351 699.5h6M361 699.5h1M702 699.5h2M715 699.5h1M725 699.5h1M746 699.5h1M798 699.5h2M810 699.5h3M820 699.5h2M825 699.5h1M1429 699.5h1M1433 699.5h1M1503 699.5h4M1515 699.5h2M347 700.5h4M362 700.5h1M701 700.5h1M716 700.5h1M724 700.5h1M746 700.5h1M796 700.5h2M813 700.5h2M818 700.5h2M826 700.5h1M840 700.5h3M951 700.5h6M1427 700.5h2M1434 700.5h1M1499 700.5h4M1517 700.5h1M344 701.5h3M363 701.5h2M699 701.5h2M717 701.5h1M723 701.5h1M747 701.5h1M794 701.5h2M815 701.5h3M827 701.5h1M839 701.5h1M843 701.5h4M853 701.5h4M949 701.5h2M957 701.5h8M1061 701.5h5M1425 701.5h2M1434 701.5h1M1488 701.5h11M1518 701.5h2M343 702.5h1M365 702.5h1M697 702.5h2M718 702.5h1M722 702.5h1M748 702.5h1M792 702.5h2M828 702.5h1M838 702.5h1M847 702.5h6M857 702.5h1M946 702.5h3M965 702.5h4M1056 702.5h5M1066 702.5h2M1397 702.5h8M1424 702.5h1M1435 702.5h1M1487 702.5h1M1520 702.5h1M343 703.5h1M366 703.5h1M477 703.5h5M696 703.5h1M719 703.5h1M721 703.5h1M748 703.5h1M790 703.5h2M828 703.5h1M837 703.5h1M858 703.5h1M943 703.5h3M969 703.5h1M1055 703.5h1M1068 703.5h2M1079 703.5h2M1391 703.5h6M1405 703.5h5M1422 703.5h2M1436 703.5h1M1486 703.5h1M1521 703.5h2M342 704.5h1M367 704.5h1M455 704.5h22M482 704.5h2M694 704.5h2M720 704.5h1M749 704.5h1M789 704.5h1M829 704.5h1M836 704.5h1M859 704.5h1M920 704.5h3M939 704.5h4M970 704.5h1M1055 704.5h1M1070 704.5h2M1075 704.5h4M1081 704.5h1M1387 704.5h4M1410 704.5h2M1421 704.5h1M1436 704.5h1M1485 704.5h1M1523 704.5h1M342 705.5h1M368 705.5h5M451 705.5h4M484 705.5h2M495 705.5h2M679 705.5h4M692 705.5h2M750 705.5h1M787 705.5h2M830 705.5h1M835 705.5h1M860 705.5h1M918 705.5h2M923 705.5h4M933 705.5h6M971 705.5h2M1054 705.5h1M1072 705.5h3M1082 705.5h1M1375 705.5h12M1412 705.5h2M1419 705.5h2M1437 705.5h1M1464 705.5h5M1484 705.5h1M1524 705.5h1M341 706.5h1M373 706.5h4M448 706.5h3M486 706.5h2M491 706.5h4M497 706.5h1M675 706.5h4M683 706.5h4M690 706.5h2M750 706.5h1M785 706.5h2M831 706.5h1M834 706.5h1M861 706.5h1M888 706.5h1M916 706.5h2M927 706.5h6M973 706.5h1M1053 706.5h1M1083 706.5h1M1101 706.5h5M1371 706.5h4M1414 706.5h2M1417 706.5h2M1438 706.5h1M1462 706.5h2M1469 706.5h5M1483 706.5h1M1525 706.5h2M280 707.5h1M341 707.5h1M377 707.5h2M447 707.5h1M488 707.5h3M498 707.5h1M672 707.5h3M687 707.5h3M751 707.5h1M781 707.5h4M831 707.5h1M833 707.5h1M862 707.5h1M886 707.5h2M889 707.5h2M914 707.5h2M974 707.5h1M1052 707.5h1M1084 707.5h1M1096 707.5h5M1106 707.5h2M1119 707.5h3M1368 707.5h3M1416 707.5h1M1438 707.5h1M1461 707.5h1M1474 707.5h3M1482 707.5h1M1527 707.5h1M278 708.5h2M281 708.5h1M340 708.5h1M379 708.5h2M445 708.5h2M499 708.5h1M671 708.5h1M751 708.5h1M775 708.5h6M832 708.5h1M863 708.5h1M884 708.5h2M891 708.5h1M909 708.5h5M975 708.5h1M1052 708.5h1M1085 708.5h1M1094 708.5h2M1108 708.5h2M1117 708.5h2M1122 708.5h2M1366 708.5h2M1439 708.5h1M1459 708.5h2M1477 708.5h2M1481 708.5h1M1528 708.5h1M255 709.5h4M277 709.5h1M282 709.5h1M301 709.5h14M339 709.5h1M381 709.5h1M444 709.5h1M500 709.5h1M670 709.5h1M752 709.5h13M771 709.5h4M864 709.5h5M882 709.5h2M892 709.5h1M903 709.5h6M976 709.5h3M1051 709.5h1M1086 709.5h1M1092 709.5h2M1110 709.5h2M1114 709.5h3M1124 709.5h2M1344 709.5h10M1365 709.5h1M1439 709.5h1M1457 709.5h2M1479 709.5h2M1529 709.5h1M253 710.5h2M259 710.5h4M275 710.5h2M283 710.5h2M296 710.5h5M315 710.5h4M339 710.5h1M382 710.5h2M443 710.5h1M501 710.5h1M669 710.5h1M765 710.5h6M869 710.5h13M893 710.5h2M901 710.5h2M979 710.5h4M1050 710.5h1M1087 710.5h1M1090 710.5h2M1112 710.5h2M1126 710.5h2M1288 710.5h1M1343 710.5h1M1354 710.5h3M1363 710.5h2M1440 710.5h2M1455 710.5h2M1530 710.5h1M250 711.5h3M263 711.5h6M273 711.5h2M285 711.5h1M294 711.5h2M319 711.5h3M338 711.5h1M384 711.5h5M397 711.5h8M441 711.5h2M502 711.5h1M668 711.5h1M895 711.5h1M898 711.5h3M983 711.5h2M1024 711.5h2M1049 711.5h1M1088 711.5h2M1128 711.5h1M1287 711.5h1M1289 711.5h1M1342 711.5h1M1357 711.5h2M1361 711.5h2M1442 711.5h3M1453 711.5h2M1531 711.5h2M248 712.5h2M269 712.5h4M286 712.5h1M292 712.5h2M322 712.5h2M338 712.5h1M389 712.5h8M405 712.5h4M440 712.5h1M503 712.5h1M667 712.5h1M896 712.5h2M985 712.5h1M1023 712.5h1M1026 712.5h3M1039 712.5h6M1049 712.5h1M1129 712.5h1M1144 712.5h1M1286 712.5h1M1290 712.5h1M1341 712.5h1M1359 712.5h2M1445 712.5h2M1450 712.5h3M1533 712.5h1M247 713.5h1M287 713.5h1M290 713.5h2M324 713.5h2M337 713.5h1M409 713.5h2M438 713.5h2M504 713.5h1M666 713.5h1M986 713.5h1M1022 713.5h1M1029 713.5h2M1035 713.5h4M1045 713.5h4M1130 713.5h1M1143 713.5h1M1145 713.5h1M1285 713.5h1M1291 713.5h1M1340 713.5h1M1447 713.5h3M1534 713.5h1M246 714.5h1M288 714.5h2M326 714.5h2M337 714.5h1M411 714.5h2M423 714.5h4M436 714.5h2M505 714.5h2M665 714.5h1M987 714.5h2M1021 714.5h1M1031 714.5h4M1131 714.5h1M1142 714.5h1M1146 714.5h1M1283 714.5h2M1292 714.5h1M1339 714.5h1M1535 714.5h1M1541 714.5h4M245 715.5h1M328 715.5h9M413 715.5h1M421 715.5h2M427 715.5h4M434 715.5h2M507 715.5h2M632 715.5h1M664 715.5h1M989 715.5h1M999 715.5h3M1019 715.5h2M1132 715.5h1M1141 715.5h1M1147 715.5h2M1282 715.5h1M1293 715.5h1M1328 715.5h3M1338 715.5h1M1536 715.5h5M1545 715.5h2M243 716.5h2M414 716.5h2M418 716.5h3M431 716.5h3M509 716.5h1M631 716.5h1M633 716.5h1M663 716.5h1M990 716.5h1M997 716.5h2M1002 716.5h2M1018 716.5h1M1133 716.5h1M1139 716.5h2M1149 716.5h1M1281 716.5h1M1294 716.5h1M1326 716.5h2M1331 716.5h4M1337 716.5h1M1547 716.5h1M242 717.5h1M416 717.5h2M510 717.5h2M629 717.5h2M634 717.5h1M662 717.5h1M991 717.5h1M994 717.5h3M1004 717.5h2M1017 717.5h1M1134 717.5h1M1138 717.5h1M1150 717.5h1M1279 717.5h2M1295 717.5h1M1325 717.5h1M1335 717.5h2M1548 717.5h1M128 718.5h5M241 718.5h1M512 718.5h5M597 718.5h6M628 718.5h1M635 718.5h1M661 718.5h1M992 718.5h2M1006 718.5h2M1013 718.5h4M1135 718.5h1M1137 718.5h1M1151 718.5h1M1157 718.5h5M1245 718.5h6M1275 718.5h4M1296 718.5h2M1323 718.5h2M1549 718.5h2M127 719.5h1M133 719.5h5M237 719.5h4M517 719.5h4M591 719.5h6M603 719.5h4M627 719.5h1M636 719.5h1M660 719.5h1M1008 719.5h5M1136 719.5h1M1152 719.5h5M1162 719.5h2M1239 719.5h6M1251 719.5h4M1269 719.5h6M1298 719.5h2M1321 719.5h2M1551 719.5h1M126 720.5h1M138 720.5h2M232 720.5h5M521 720.5h2M587 720.5h4M607 720.5h4M625 720.5h2M636 720.5h1M659 720.5h1M1164 720.5h2M1237 720.5h2M1255 720.5h14M1300 720.5h2M1319 720.5h2M1552 720.5h2M1648 720.5h5M125 721.5h1M140 721.5h2M230 721.5h2M523 721.5h2M581 721.5h6M611 721.5h4M621 721.5h4M637 721.5h1M658 721.5h1M1166 721.5h2M1234 721.5h3M1302 721.5h2M1317 721.5h2M1554 721.5h3M1647 721.5h1M1653 721.5h11M13 722.5h4M123 722.5h2M142 722.5h2M228 722.5h2M525 722.5h1M575 722.5h6M615 722.5h6M638 722.5h1M657 722.5h1M1168 722.5h5M1231 722.5h3M1304 722.5h5M1314 722.5h3M1557 722.5h2M1646 722.5h1M8 723.5h5M17 723.5h2M96 723.5h10M122 723.5h1M144 723.5h1M226 723.5h2M526 723.5h2M571 723.5h4M639 723.5h1M653 723.5h4M1173 723.5h5M1227 723.5h4M1309 723.5h5M1559 723.5h3M1645 723.5h1M19 724.5h1M64 724.5h1M95 724.5h1M106 724.5h3M121 724.5h1M145 724.5h2M223 724.5h3M528 724.5h5M567 724.5h4M640 724.5h13M1178 724.5h2M1224 724.5h3M1562 724.5h2M1643 724.5h2M20 725.5h1M62 725.5h2M65 725.5h1M93 725.5h2M109 725.5h2M117 725.5h4M147 725.5h1M221 725.5h2M533 725.5h13M563 725.5h4M1180 725.5h2M1222 725.5h2M1564 725.5h2M1575 725.5h3M1642 725.5h1M21 726.5h2M61 726.5h1M66 726.5h1M92 726.5h1M111 726.5h6M148 726.5h1M218 726.5h3M546 726.5h2M559 726.5h4M1182 726.5h2M1220 726.5h2M1566 726.5h2M1571 726.5h4M1578 726.5h2M1641 726.5h1M23 727.5h1M59 727.5h2M66 727.5h1M80 727.5h3M91 727.5h1M149 727.5h2M216 727.5h2M548 727.5h2M557 727.5h2M1184 727.5h2M1218 727.5h2M1568 727.5h3M1580 727.5h2M1639 727.5h2M24 728.5h5M57 728.5h2M67 728.5h1M79 728.5h1M83 728.5h4M89 728.5h2M151 728.5h1M214 728.5h2M550 728.5h2M554 728.5h3M1186 728.5h3M1207 728.5h11M1582 728.5h2M1637 728.5h2M29 729.5h28M68 729.5h1M78 729.5h1M87 729.5h2M152 729.5h9M212 729.5h2M552 729.5h2M1189 729.5h2M1205 729.5h2M1584 729.5h13M1616 729.5h5M1634 729.5h3M69 730.5h1M77 730.5h1M161 730.5h2M210 730.5h2M1191 730.5h6M1202 730.5h3M1597 730.5h4M1615 730.5h1M1621 730.5h13M70 731.5h1M75 731.5h2M163 731.5h2M207 731.5h3M1197 731.5h5M1601 731.5h1M1614 731.5h1M70 732.5h1M74 732.5h1M165 732.5h1M189 732.5h8M203 732.5h4M1602 732.5h1M1613 732.5h1M71 733.5h1M73 733.5h1M166 733.5h2M181 733.5h8M197 733.5h6M1603 733.5h2M1612 733.5h1M72 734.5h1M168 734.5h13M1605 734.5h1M1611 734.5h1M1606 735.5h1M1610 735.5h1M1607 736.5h1M1609 736.5h1M1608 737.5h1" fill="none" stroke="#1e90ff" stroke-width="1"/>
</g>
<g id="axis">
<rect class="ce" x="1684" y="72" width="2" height="1" fill="#000"/>
<text class="ax" y="76"><tspan x="1689" textLength="37.5" lengthAdjust="spacingAndGlyphs">2942.855</tspan></text>
<rect class="ce" x="1684" y="105" width="2" height="1" fill="#000"/>
<text class="ax" y="109"><tspan x="1689" textLength="37.5" lengthAdjust="spacingAndGlyphs">2885.225</tspan></text>
<rect class="ce" x="1684" y="138" width="2" height="1" fill="#000"/>
<text class="ax" y="142"><tspan x="1689" textLength="37.5" lengthAdjust="spacingAndGlyphs">2829.290</tspan></text>
<rect class="ce" x="1684" y="171" width="2" height="1" fill="#000"/>
<text class="ax" y="175"><tspan x="1689" textLength="37.5" lengthAdjust="spacingAndGlyphs">2773.355</tspan></text>
<rect class="ce" x="1684" y="204" width="2" height="1" fill="#000"/>
<text class="ax" y="208"><tspan x="1689" textLength="37.5" lengthAdjust="spacingAndGlyphs">2717.420</tspan></text>
<rect class="ce" x="1684" y="237" width="2" height="1" fill="#000"/>
<text class="ax" y="241"><tspan x="1689" textLength="37.5" lengthAdjust="spacingAndGlyphs">2661.485</tspan></text>
<rect class="ce" x="1684" y="270" width="2" height="1" fill="#000"/>
<text class="ax" y="274"><tspan x="1689" textLength="37.5" lengthAdjust="spacingAndGlyphs">2605.550</tspan></text>
<rect class="ce" x="1684" y="303" width="2" height="1" fill="#000"/>
<text class="ax" y="307"><tspan x="1689" textLength="37.5" lengthAdjust="spacingAndGlyphs">2549.615</tspan></text>
<rect class="ce" x="1684" y="336" width="2" height="1" fill="#000"/>
<text class="ax" y="340"><tspan x="1689" textLength="37.5" lengthAdjust="spacingAndGlyphs">2491.985</tspan></text>
<rect class="ce" x="1684" y="369" width="2" height="1" fill="#000"/>
<text class="ax" y="373"><tspan x="1689" textLength="37.5" lengthAdjust="spacingAndGlyphs">2436.050</tspan></text>
<rect class="ce" x="1684" y="402" width="2" height="1" fill="#000"/>
<text class="ax" y="406"><tspan x="1689" textLength="37.5" lengthAdjust="spacingAndGlyphs">2380.115</tspan></text>
<rect class="ce" x="1684" y="435" width="2" height="1" fill="#000"/>
<text class="ax" y="439"><tspan x="1689" textLength="37.5" lengthAdjust="spacingAndGlyphs">2324.180</tspan></text>
<rect class="ce" x="1684" y="468" width="2" height="1" fill="#000"/>
<text class="ax" y="472"><tspan x="1689" textLength="37.5" lengthAdjust="spacingAndGlyphs">2268.245</tspan></text>
<rect class="ce" x="1684" y="501" width="2" height="1" fill="#000"/>
<text class="ax" y="505"><tspan x="1689" textLength="37.5" lengthAdjust="spacingAndGlyphs">2212.310</tspan></text>
<rect class="ce" x="1684" y="534" width="2" height="1" fill="#000"/>
<text class="ax" y="538"><tspan x="1689" textLength="37.5" lengthAdjust="spacingAndGlyphs">2156.375</tspan></text>
<rect class="ce" x="1684" y="39" width="1" height="1" fill="#000"/>
<rect class="ce" x="1685" y="32" width="43" height="11" fill="#ff0000"/>
<text class="ax w" y="41"><tspan x="1689" textLength="37.5" lengthAdjust="spacingAndGlyphs">3000.000</tspan></text>
<rect class="ce" x="1685" y="105" width="43" height="11" fill="#32cd32"/>
<text class="ax w" y="114"><tspan x="1689" textLength="37.5" lengthAdjust="spacingAndGlyphs">2875.000</tspan></text>
<rect class="ce" x="1685" y="132" width="43" height="11" fill="#000"/>
<text class="ax w" y="141"><tspan x="1689" textLength="37.5" lengthAdjust="spacingAndGlyphs">2831.250</tspan></text>
<rect class="ce" x="1685" y="191" width="43" height="11" fill="#4169e1"/>
<text class="ax w" y="200"><tspan x="1689" textLength="37.5" lengthAdjust="spacingAndGlyphs">2730.000</tspan></text>
<rect class="ce" x="1685" y="249" width="43" height="11" fill="#4169e1"/>
<text class="ax w" y="258"><tspan x="1689" textLength="37.5" lengthAdjust="spacingAndGlyphs">2630.000</tspan></text>
<rect class="ce" x="1685" y="314" width="43" height="11" fill="#4169e1"/>
<text class="ax w" y="323"><tspan x="1689" textLength="37.5" lengthAdjust="spacingAndGlyphs">2520.000</tspan></text>
<rect class="ce" x="1684" y="541" width="1" height="1" fill="#000"/>
<text class="ax" y="550"><tspan x="1687.1" textLength="32.5" lengthAdjust="spacingAndGlyphs">64.0093</tspan></text>
<rect class="ce" x="1684" y="593" width="1" height="1" fill="#000"/>
<text class="ax" y="597"><tspan x="1687.1" textLength="17.5" lengthAdjust="spacingAndGlyphs">0.00</tspan></text>
<rect class="ce" x="1684" y="662" width="1" height="1" fill="#000"/>
<text class="ax" y="660"><tspan x="1687.1" textLength="31.5" lengthAdjust="spacingAndGlyphs">-84.122</tspan></text>
<rect class="ce" x="1684" y="667" width="1" height="1" fill="#000"/>
<text class="ax" y="676"><tspan x="1687.1" textLength="14.5" lengthAdjust="spacingAndGlyphs">100</tspan></text>
<text class="ax" y="701"><tspan x="1687.1" textLength="9.5" lengthAdjust="spacingAndGlyphs">70</tspan></text>
<text class="ax" y="743"><tspan x="1687.1" textLength="9.5" lengthAdjust="spacingAndGlyphs">30</tspan></text>
<rect class="ce" x="1684" y="769" width="1" height="1" fill="#000"/>
<text class="ax" y="767"><tspan x="1687.1" textLength="4.5" lengthAdjust="spacingAndGlyphs">0</tspan></text>
<rect class="ce" x="8" y="771" width="1" height="3" fill="#000"/>
<text class="ax" y="783"><tspan x="7" textLength="9.5" lengthAdjust="spacingAndGlyphs">17</tspan> <tspan x="20" textLength="15.5" lengthAdjust="spacingAndGlyphs">Mar</tspan> <tspan x="39" textLength="19.5" lengthAdjust="spacingAndGlyphs">2020</tspan></text>
<rect class="ce" x="72" y="771" width="1" height="3" fill="#000"/>
<text class="ax" y="783"><tspan x="71" textLength="9.5" lengthAdjust="spacingAndGlyphs">19</tspan> <tspan x="84" textLength="15.5" lengthAdjust="spacingAndGlyphs">Mar</tspan> <tspan x="103" textLength="23.5" lengthAdjust="spacingAndGlyphs">00:00</tspan></text>
<rect class="ce" x="136" y="771" width="1" height="3" fill="#000"/>
<text class="ax" y="783"><tspan x="135" textLength="9.5" lengthAdjust="spacingAndGlyphs">20</tspan> <tspan x="148" textLength="15.5" lengthAdjust="spacingAndGlyphs">Mar</tspan> <tspan x="167" textLength="23.5" lengthAdjust="spacingAndGlyphs">08:00</tspan></text>
<rect class="ce" x="200" y="771" width="1" height="3" fill="#000"/>
<text class="ax" y="783"><tspan x="199" textLength="9.5" lengthAdjust="spacingAndGlyphs">23</tspan> <tspan x="212" textLength="15.5" lengthAdjust="spacingAndGlyphs">Mar</tspan> <tspan x="231" textLength="23.5" lengthAdjust="spacingAndGlyphs">12:00</tspan></text>
<rect class="ce" x="264" y="771" width="1" height="3" fill="#000"/>
<text class="ax" y="783"><tspan x="263" textLength="9.5" lengthAdjust="spacingAndGlyphs">24</tspan> <tspan x="276" textLength="15.5" lengthAdjust="spacingAndGlyphs">Mar</tspan> <tspan x="295" textLength="23.5" lengthAdjust="spacingAndGlyphs">20:00</tspan></text>
<rect class="ce" x="328" y="771" width="1" height="3" fill="#000"/>
<text class="ax" y="783"><tspan x="327" textLength="9.5" lengthAdjust="spacingAndGlyphs">26</tspan> <tspan x="340" textLength="15.5" lengthAdjust="spacingAndGlyphs">Mar</tspan> <tspan x="359" textLength="23.5" lengthAdjust="spacingAndGlyphs">04:00</tspan></text>
<rect class="ce" x="392" y="771" width="1" height="3" fill="#000"/>
<text class="ax" y="783"><tspan x="391" textLength="9.5" lengthAdjust="spacingAndGlyphs">27</tspan> <tspan x="404" textLength="15.5" lengthAdjust="spacingAndGlyphs">Mar</tspan> <tspan x="423" textLength="23.5" lengthAdjust="spacingAndGlyphs">12:00</tspan></text>
<rect class="ce" x="456" y="771" width="1" height="3" fill="#000"/>
<text class="ax" y="783"><tspan x="455" textLength="9.5" lengthAdjust="spacingAndGlyphs">30</tspan> <tspan x="468" textLength="15.5" lengthAdjust="spacingAndGlyphs">Mar</tspan> <tspan x="487" textLength="23.5" lengthAdjust="spacingAndGlyphs">16:00</tspan></text>
<rect class="ce" x="520" y="771" width="1" height="3" fill="#000"/>
<text class="ax" y="783"><tspan x="519" textLength="4.5" lengthAdjust="spacingAndGlyphs">1</tspan> <tspan x="527" textLength="14.5" lengthAdjust="spacingAndGlyphs">Apr</tspan> <tspan x="545" textLength="23.5" lengthAdjust="spacingAndGlyphs">00:00</tspan></text>
<rect class="ce" x="584" y="771" width="1" height="3" fill="#000"/>
<text class="ax" y="783"><tspan x="583" textLength="4.5" lengthAdjust="spacingAndGlyphs">2</tspan> <tspan x="591" textLength="14.5" lengthAdjust="spacingAndGlyphs">Apr</tspan> <tspan x="609" textLength="23.5" lengthAdjust="spacingAndGlyphs">08:00</tspan></text>
<rect class="ce" x="648" y="771" width="1" height="3" fill="#000"/>
<text class="ax" y="783"><tspan x="647" textLength="4.5" lengthAdjust="spacingAndGlyphs">3</tspan> <tspan x="655" textLength="14.5" lengthAdjust="spacingAndGlyphs">Apr</tspan> <tspan x="673" textLength="23.5" lengthAdjust="spacingAndGlyphs">16:00</tspan></text>
<rect class="ce" x="712" y="771" width="1" height="3" fill="#000"/>
<text class="ax" y="783"><tspan x="711" textLength="4.5" lengthAdjust="spacingAndGlyphs">6</tspan> <tspan x="719" textLength="14.5" lengthAdjust="spacingAndGlyphs">Apr</tspan> <tspan x="737" textLength="23.5" lengthAdjust="spacingAndGlyphs">20:00</tspan></text>
<rect class="ce" x="776" y="771" width="1" height="3" fill="#000"/>
<text class="ax" y="783"><tspan x="775" textLength="4.5" lengthAdjust="spacingAndGlyphs">8</tspan> <tspan x="783" textLength="14.5" lengthAdjust="spacingAndGlyphs">Apr</tspan> <tspan x="801" textLength="23.5" lengthAdjust="spacingAndGlyphs">04:00</tspan></text>
<rect class="ce" x="840" y="771" width="1" height="3" fill="#000"/>
<text class="ax" y="783"><tspan x="839" textLength="4.5" lengthAdjust="spacingAndGlyphs">9</tspan> <tspan x="847" textLength="14.5" lengthAdjust="spacingAndGlyphs">Apr</tspan> <tspan x="865" textLength="23.5" lengthAdjust="spacingAndGlyphs">12:00</tspan></text>
<rect class="ce" x="904" y="771" width="1" height="3" fill="#000"/>
<text class="ax" y="783"><tspan x="903" textLength="9.5" lengthAdjust="spacingAndGlyphs">13</tspan> <tspan x="916" textLength="14.5" lengthAdjust="spacingAndGlyphs">Apr</tspan> <tspan x="934" textLength="23.5" lengthAdjust="spacingAndGlyphs">16:00</tspan></text>
<rect class="ce" x="968" y="771" width="1" height="3" fill="#000"/>
<text class="ax" y="783"><tspan x="967" textLength="9.5" lengthAdjust="spacingAndGlyphs">15</tspan> <tspan x="980" textLength="14.5" lengthAdjust="spacingAndGlyphs">Apr</tspan> <tspan x="998" textLength="23.5" lengthAdjust="spacingAndGlyphs">00:00</tspan></text>
<rect class="ce" x="1032" y="771" width="1" height="3" fill="#000"/>
<text class="ax" y="783"><tspan x="1031" textLength="9.5" lengthAdjust="spacingAndGlyphs">16</tspan> <tspan x="1044" textLength="14.5" lengthAdjust="spacingAndGlyphs">Apr</tspan> <tspan x="1062" textLength="23.5" lengthAdjust="spacingAndGlyphs">08:00</tspan></text>
<rect class="ce" x="1096" y="771" width="1" height="3" fill="#000"/>
<text class="ax" y="783"><tspan x="1095" textLength="9.5" lengthAdjust="spacingAndGlyphs">17</tspan> <tspan x="1108" textLength="14.5" lengthAdjust="spacingAndGlyphs">Apr</tspan> <tspan x="1126" textLength="23.5" lengthAdjust="spacingAndGlyphs">16:00</tspan></text>
<rect class="ce" x="1160" y="771" width="1" height="3" fill="#000"/>
<text class="ax" y="783"><tspan x="1159" textLength="9.5" lengthAdjust="spacingAndGlyphs">20</tspan> <tspan x="1172" textLength="14.5" lengthAdjust="spacingAndGlyphs">Apr</tspan> <tspan x="1190" textLength="23.5" lengthAdjust="spacingAndGlyphs">20:00</tspan></text>
<rect class="ce" x="1224" y="771" width="1" height="3" fill="#000"/>
<text class="ax" y="783"><tspan x="1223" textLength="9.5" lengthAdjust="spacingAndGlyphs">22</tspan> <tspan x="1236" textLength="14.5" lengthAdjust="spacingAndGlyphs">Apr</tspan> <tspan x="1254" textLength="23.5" lengthAdjust="spacingAndGlyphs">04:00</tspan></text>
<rect class="ce" x="1288" y="771" width="1" height="3" fill="#000"/>
<text class="ax" y="783"><tspan x="1287" textLength="9.5" lengthAdjust="spacingAndGlyphs">23</tspan> <tspan x="1300" textLength="14.5" lengthAdjust="spacingAndGlyphs">Apr</tspan> <tspan x="1318" textLength="23.5" lengthAdjust="spacingAndGlyphs">12:00</tspan></text>
<rect class="ce" x="1352" y="771" width="1" height="3" fill="#000"/>
<text class="ax" y="783"><tspan x="1351" textLength="9.5" lengthAdjust="spacingAndGlyphs">24</tspan> <tspan x="1364" textLength="14.5" lengthAdjust="spacingAndGlyphs">Apr</tspan> <tspan x="1382" textLength="23.5" lengthAdjust="spacingAndGlyphs">20:00</tspan></text>
<rect class="ce" x="1416" y="771" width="1" height="3" fill="#000"/>
<text class="ax" y="783"><tspan x="1415" textLength="9.5" lengthAdjust="spacingAndGlyphs">28</tspan> <tspan x="1428" textLength="14.5" lengthAdjust="spacingAndGlyphs">Apr</tspan> <tspan x="1446" textLength="23.5" lengthAdjust="spacingAndGlyphs">00:00</tspan></text>
<rect class="ce" x="1480" y="771" width="1" height="3" fill="#000"/>
<text class="ax" y="783"><tspan x="1479" textLength="9.5" lengthAdjust="spacingAndGlyphs">29</tspan> <tspan x="1492" textLength="14.5" lengthAdjust="spacingAndGlyphs">Apr</tspan> <tspan x="1510" textLength="23.5" lengthAdjust="spacingAndGlyphs">08:00</tspan></text>
<rect class="ce" x="1544" y="771" width="1" height="3" fill="#000"/>
<text class="ax" y="783"><tspan x="1543" textLength="9.5" lengthAdjust="spacingAndGlyphs">30</tspan> <tspan x="1556" textLength="14.5" lengthAdjust="spacingAndGlyphs">Apr</tspan> <tspan x="1574" textLength="23.5" lengthAdjust="spacingAndGlyphs">16:00</tspan></text>
<rect class="ce" x="1608" y="771" width="1" height="3" fill="#000"/>
<text class="ax" y="783"><tspan x="1607" textLength="4.5" lengthAdjust="spacingAndGlyphs">3</tspan> <tspan x="1615" textLength="17.5" lengthAdjust="spacingAndGlyphs">May</tspan> <tspan x="1636" textLength="23.5" lengthAdjust="spacingAndGlyphs">23:00</tspan></text>
</g>
<g id="titles">
<rect class="ce" x="11" y="41" width="7" height="1" fill="#000"/>
<rect class="ce" x="12" y="42" width="5" height="1" fill="#000"/>
<rect class="ce" x="13" y="43" width="3" height="1" fill="#000"/>
<rect class="ce" x="14" y="44" width="1" height="1" fill="#000"/>
<text class="ax" y="46"><tspan x="23" textLength="45.5" lengthAdjust="spacingAndGlyphs">SP500-,H4</tspan> &#160;<tspan x="75" textLength="37.5" lengthAdjust="spacingAndGlyphs">2831.000</tspan> <tspan x="116" textLength="37.5" lengthAdjust="spacingAndGlyphs">2837.250</tspan> <tspan x="157" textLength="37.5" lengthAdjust="spacingAndGlyphs">2831.000</tspan> <tspan x="198" textLength="37.5" lengthAdjust="spacingAndGlyphs">2831.250</tspan></text>
<text class="ax" y="552"><tspan x="12" textLength="63.5" lengthAdjust="spacingAndGlyphs">MACD(12,26,9)</tspan> <tspan x="79" textLength="36.5" lengthAdjust="spacingAndGlyphs">-13.4162</tspan> <tspan x="119" textLength="36.5" lengthAdjust="spacingAndGlyphs">-14.7547</tspan></text>
<text class="ax" y="678"><tspan x="12" textLength="31.5" lengthAdjust="spacingAndGlyphs">RSI(14)</tspan> <tspan x="47" textLength="32.5" lengthAdjust="spacingAndGlyphs">47.0538</tspan></text>
<text class="note" x="1214.8" y="440">多空转折点<tspan dy="-1.2" dx="1" textLength="74" lengthAdjust="spacingAndGlyphs">2875</tspan></text>
</g>
</svg>
</body></html>
